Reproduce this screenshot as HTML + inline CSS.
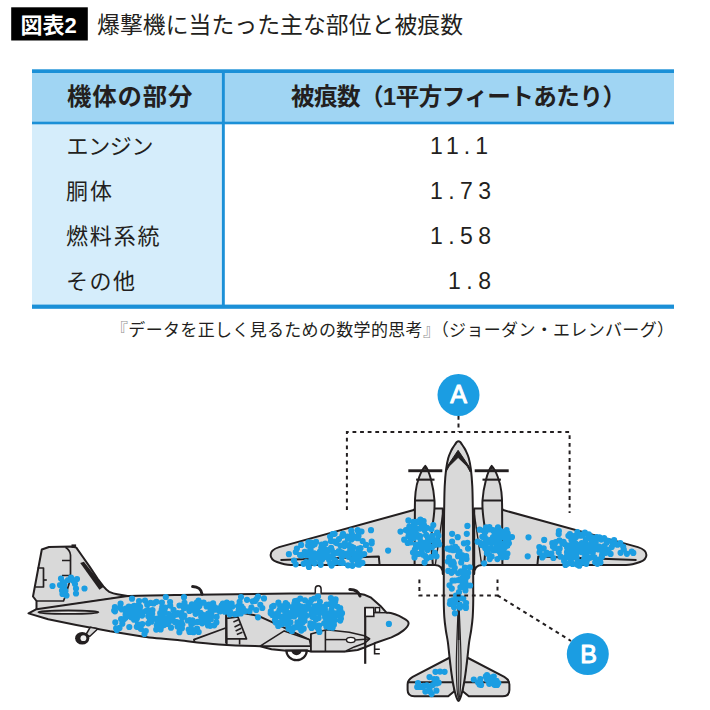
<!DOCTYPE html>
<html lang="ja"><head><meta charset="utf-8"><title>図表2 爆撃機に当たった主な部位と被痕数</title>
<style>
html,body{margin:0;padding:0;background:#fff;}
body{width:710px;height:710px;overflow:hidden;font-family:"Liberation Sans",sans-serif;}
svg{display:block}
</style></head><body>
<svg width="710" height="710" viewBox="0 0 710 710" role="img" aria-label="図表2 爆撃機に当たった主な部位と被痕数">
<path d="M414.7 509.8 L279.1 547.1 C273 549 270.6 552 270.6 555 C270.6 558.5 273 560.5 277 562 C281 563.5 285 565 291 565 L435 565 C440 565 442.8 568 442.8 574 L442.8 508.4 L414.7 508.4 Z" fill="#d9d9d9" stroke="#231f20" stroke-width="2.0" stroke-linejoin="round" stroke-linecap="round" />
<path d="M502.3 509.8 L637.9 547.1 C644.0 549 646.4 552 646.4 555 C646.4 558.5 644.0 560.5 640.0 562 C636.0 563.5 632.0 565 626.0 565 L482.0 565 C477.0 565 474.2 568 474.2 574 L474.2 508.4 L502.3 508.4 Z" fill="#d9d9d9" stroke="#231f20" stroke-width="2.0" stroke-linejoin="round" stroke-linecap="round" />
<path d="M280.5 560 L378.8 556.4 L379.6 565" fill="none" stroke="#231f20" stroke-width="2.0" stroke-linejoin="round" stroke-linecap="butt" />
<path d="M636.5 560 L538.2 556.4 L537.4 565" fill="none" stroke="#231f20" stroke-width="2.0" stroke-linejoin="round" stroke-linecap="butt" />
<path d="M443.4 509 L435.3 565" fill="none" stroke="#231f20" stroke-width="1.4" stroke-linejoin="round" stroke-linecap="butt" />
<path d="M473.6 509 L481.7 565" fill="none" stroke="#231f20" stroke-width="1.4" stroke-linejoin="round" stroke-linecap="butt" />
<path d="M449.9 657.5 L412.7 676.9 C409 679 407.6 681.5 407.6 684.5 L407.6 690 C407.6 694 410 696.3 414.4 696.3 L448.2 696.3 L454.6 691 Z" fill="#d9d9d9" stroke="#231f20" stroke-width="2.0" stroke-linejoin="round" stroke-linecap="round" />
<path d="M467.1 657.5 L504.3 676.9 C508.0 679 509.4 681.5 509.4 684.5 L509.4 690 C509.4 694 507.0 696.3 502.6 696.3 L468.8 696.3 L462.4 691 Z" fill="#d9d9d9" stroke="#231f20" stroke-width="2.0" stroke-linejoin="round" stroke-linecap="round" />
<path d="M407.6 682.2 H453.5" fill="none" stroke="#231f20" stroke-width="2.0" stroke-linejoin="round" stroke-linecap="butt" />
<path d="M509.4 682.2 H463.5" fill="none" stroke="#231f20" stroke-width="2.0" stroke-linejoin="round" stroke-linecap="butt" />
<path d="M425.3 465.9 C421.3 470 416.5 482 415.6 492 C415.0 497 414.8 503 414.9 510 L414.6 565 L432.90000000000003 565 C431.5 552 430.90000000000003 540 432.1 528 C433.8 518 434.9 508 434.5 500.5 C433.7 488 429.3 470 425.3 465.9 Z" fill="#d9d9d9" stroke="#231f20" stroke-width="2.0" stroke-linejoin="round" stroke-linecap="round" />
<path d="M415.1 500.5 H434.5" fill="none" stroke="#231f20" stroke-width="2.0" stroke-linejoin="round" stroke-linecap="butt" />
<rect x="408.3" y="469.3" width="34" height="2.9" fill="#231f20"/>
<rect x="416.1" y="478.6" width="18.4" height="2.1" fill="#231f20"/>
<path d="M425.3 465.2 L423.8 469.5 H426.8 Z" fill="#231f20"/>
<path d="M491.7 465.9 C495.7 470 500.5 482 501.4 492 C502.0 497 502.2 503 502.1 510 L502.4 565 L484.09999999999997 565 C485.5 552 486.09999999999997 540 484.9 528 C483.2 518 482.1 508 482.5 500.5 C483.3 488 487.7 470 491.7 465.9 Z" fill="#d9d9d9" stroke="#231f20" stroke-width="2.0" stroke-linejoin="round" stroke-linecap="round" />
<path d="M501.9 500.5 H482.5" fill="none" stroke="#231f20" stroke-width="2.0" stroke-linejoin="round" stroke-linecap="butt" />
<rect x="474.7" y="469.3" width="34" height="2.9" fill="#231f20"/>
<rect x="482.5" y="478.6" width="18.4" height="2.1" fill="#231f20"/>
<path d="M491.7 465.2 L490.2 469.5 H493.2 Z" fill="#231f20"/>
<path d="M458.50 441.30 C457.93 441.30 457.33 441.63 456.80 442.10 C456.27 442.57 455.93 443.20 455.30 444.10 C454.67 445.00 453.72 446.33 453.00 447.50 C452.28 448.67 451.80 449.32 451.00 451.10 C450.20 452.88 449.02 455.15 448.20 458.20 C447.38 461.25 446.68 464.72 446.10 469.40 C445.52 474.08 445.02 479.95 444.70 486.30 C444.38 492.65 444.32 500.45 444.20 507.50 C444.07 514.55 444.02 518.18 443.95 528.60 C443.88 539.02 443.83 558.10 443.80 570.00 C443.77 581.90 443.67 592.18 443.75 600.00 C443.83 607.82 443.96 611.90 444.30 616.90 C444.64 621.90 445.20 625.77 445.80 630.00 C446.40 634.23 447.28 637.82 447.90 642.30 C448.52 646.78 448.89 651.65 449.50 656.90 C450.11 662.15 450.83 668.73 451.55 673.80 C452.27 678.87 453.08 683.63 453.80 687.30 C454.52 690.97 455.28 693.72 455.90 695.80 C456.52 697.88 457.07 698.95 457.50 699.80 C457.93 700.65 458.17 700.90 458.50 700.90 C458.83 700.90 459.07 700.65 459.50 699.80 C459.93 698.95 460.48 697.88 461.10 695.80 C461.72 693.72 462.48 690.97 463.20 687.30 C463.92 683.63 464.73 678.87 465.45 673.80 C466.17 668.73 466.89 662.15 467.50 656.90 C468.11 651.65 468.48 646.78 469.10 642.30 C469.72 637.82 470.60 634.23 471.20 630.00 C471.80 625.77 472.36 621.90 472.70 616.90 C473.04 611.90 473.17 607.82 473.25 600.00 C473.33 592.18 473.23 581.90 473.20 570.00 C473.17 558.10 473.12 539.02 473.05 528.60 C472.98 518.18 472.93 514.55 472.80 507.50 C472.68 500.45 472.62 492.65 472.30 486.30 C471.98 479.95 471.48 474.08 470.90 469.40 C470.32 464.72 469.62 461.25 468.80 458.20 C467.98 455.15 466.80 452.88 466.00 451.10 C465.20 449.32 464.72 448.67 464.00 447.50 C463.28 446.33 462.33 445.00 461.70 444.10 C461.07 443.20 460.73 442.57 460.20 442.10 C459.67 441.63 459.07 441.30 458.50 441.30 Z" fill="#d9d9d9" stroke="#231f20" stroke-width="2.0" stroke-linejoin="round" stroke-linecap="round" />
<path d="M458.1 450.3 L446.9 466.8 L445.9 472 L449.1 466.2 L458.1 457.4 L467.1 466.2 L470.3 472 L469.3 466.8 Z" fill="#231f20" stroke="#231f20" stroke-width="1" stroke-linejoin="round"/>
<path d="M458.5 601 C457.4 625 456.2 650 456.3 668 C456.6 685 457.8 698 458.7 698.5 C459.6 698 460.8 685 461.1 668 C461.2 650 459.8 625 458.9 601 Z" fill="#bdbdbd" stroke="#231f20" stroke-width="1.2" stroke-linejoin="round" stroke-linecap="round" />
<path d="M458.7 600 V640" fill="none" stroke="#231f20" stroke-width="2.0" stroke-linejoin="round" stroke-linecap="butt" />
<path d="M458.7 640 V697" fill="none" stroke="#231f20" stroke-width="0.9" stroke-linejoin="round" stroke-linecap="butt" />
<path d="M41.8 549.5 L49 547 L72 546.5 L76.3 547.6 L82.7 556.8 L89.6 566.6 L97.5 578.5 L103.4 586.4 C105.5 589 107.5 590.8 109.3 591.8 C112 593 114.5 593.8 117.2 594.2 L129 596.3 L36.5 610 L36.5 601 L33 596.5 Z" fill="#d9d9d9" stroke="#231f20" stroke-width="2.0" stroke-linejoin="round" stroke-linecap="round" />
<rect x="71.5" y="544.4" width="4.6" height="3.6" fill="#231f20"/>
<path d="M80.2 562.9 L83.9 561.7 L103.8 586.8 L99.4 589.7 Z" fill="#231f20"/>
<path d="M65.5 547.3 C68 549 70.2 551.5 70.5 555 L70.5 574 L69 584 L65 597 L63.5 601 H36.5" fill="none" stroke="#231f20" stroke-width="1.7" stroke-linejoin="round" stroke-linecap="butt" />
<path d="M62 560.5 H70.5 M62 575.5 H70.3" fill="none" stroke="#231f20" stroke-width="1.7" stroke-linejoin="round" stroke-linecap="butt" />
<path d="M37.5 568 H43.5 V587 H35.2" fill="none" stroke="#231f20" stroke-width="1.7" stroke-linejoin="round" stroke-linecap="butt" />
<path d="M43.5 580 H46.8" fill="none" stroke="#231f20" stroke-width="1.7" stroke-linejoin="round" stroke-linecap="butt" />
<path d="M28.5 613.4 L36.5 609.2 L126 596.2 C140 595.4 160 595.3 194.5 594.8 L290 593.5 L357.6 593.5 C364 594 368 596 371.1 597.7 L381.3 606.8 L386.5 612.6 C392 613 398 615 403.2 618.2 C406.5 620 408.6 621.5 408.6 623.2 C408.6 625.5 406.5 628 403.2 630.6 C399 634 395 636 391.4 637.4 L374.5 643.3 L364.4 647.5 L357.6 650 L345 651.4 L310.8 651.4 L306.5 650.6 L286.5 650.8 L271.5 649.2 L260.1 646.3 L255 646 C240 645.8 225 645 218.8 644.5 C205 643.5 190 641.5 177.6 640.1 C160 638.5 150 637.5 143.8 636.7 L110 631.3 L76.3 625.1 L48.2 619.3 Z" fill="#d9d9d9" stroke="#231f20" stroke-width="2.0" stroke-linejoin="round" stroke-linecap="round" />
<ellipse cx="68.4" cy="612.2" rx="30" ry="1.7" fill="#e8e8e8" stroke="#231f20" stroke-width="1.9"/>
<path d="M90.2 627.3 L86 634.5 L89.6 636.5 L97.9 628.8 Z" fill="#d9d9d9" stroke="#231f20" stroke-width="1.5" stroke-linejoin="round" stroke-linecap="round" />
<ellipse cx="82.2" cy="638.3" rx="7.1" ry="6.3" fill="#231f20"/>
<circle cx="83.4" cy="638.2" r="2.9" fill="#f0f0f0"/>
<path d="M202 594.2 C201.5 589.8 198 586.6 192.6 586.6" fill="none" stroke="#231f20" stroke-width="3.0" stroke-linejoin="round" stroke-linecap="round" />
<path d="M360 596 C358.5 591.8 355 589.4 349.8 589.5" fill="none" stroke="#231f20" stroke-width="3.0" stroke-linejoin="round" stroke-linecap="round" />
<path d="M315.3 593.5 V589 C315.3 584.6 321.1 584.6 321.1 589 V593.5" fill="#fff" stroke="#231f20" stroke-width="1.5"/>
<path d="M286.4 650.6 A10.2 9.6 0 0 0 306.8 650.6 Z" fill="#fff" stroke="#231f20" stroke-width="2.2"/>
<path d="M291.4 650.6 A5.1 4.6 0 0 0 301.6 650.6 Z" fill="#231f20"/>
<path d="M194.8 642.8 L193.9 639.6 L225.6 628" fill="none" stroke="#231f20" stroke-width="1.8" stroke-linejoin="round" stroke-linecap="butt" />
<path d="M226.1 613 V643.6" fill="none" stroke="#231f20" stroke-width="2.0" stroke-linejoin="round" stroke-linecap="butt" />
<path d="M206.9 620.8 H212.5" fill="none" stroke="#231f20" stroke-width="1.6" stroke-linejoin="round" stroke-linecap="butt" />
<path d="M226.6 618.4 L237.9 616.9 L246.5 638.9 H226.8 Z" fill="#d9d9d9" stroke="#231f20" stroke-width="1.7" stroke-linejoin="round" stroke-linecap="round" />
<path d="M233.4 622 L238.5 619.7" fill="none" stroke="#231f20" stroke-width="1.5" stroke-linejoin="round" stroke-linecap="butt" />
<path d="M234.5 627 L240.1 624.3" fill="none" stroke="#231f20" stroke-width="1.5" stroke-linejoin="round" stroke-linecap="butt" />
<path d="M235.6 631 L241.3 628.3" fill="none" stroke="#231f20" stroke-width="1.5" stroke-linejoin="round" stroke-linecap="butt" />
<path d="M236.8 634.5 L242.4 632.2" fill="none" stroke="#231f20" stroke-width="1.5" stroke-linejoin="round" stroke-linecap="butt" />
<path d="M226.8 639.1 V644 M239.6 639.1 V644.4" fill="none" stroke="#231f20" stroke-width="1.6" stroke-linejoin="round" stroke-linecap="butt" />
<path d="M243.3 612.9 L259.4 616.3 L284.2 627.7 L309.5 639.8" fill="none" stroke="#231f20" stroke-width="2.0" stroke-linejoin="round" stroke-linecap="butt" />
<path d="M260.1 646.1 L284.2 630.9 L309.5 639.8 L310.8 646.1 Z" fill="#d9d9d9" stroke="#231f20" stroke-width="1.6" stroke-linejoin="round" stroke-linecap="round" />
<path d="M310.8 634.1 L326.3 629.8 L349.2 632.3 L364.4 635.7 L369.6 638.8 L364.4 643.3 L354.2 646.9 L345 651.4 L310.8 651.4 Z" fill="#d9d9d9" stroke="#231f20" stroke-width="1.6" stroke-linejoin="round" stroke-linecap="round" />
<path d="M325.4 630.2 V651.2" fill="none" stroke="#231f20" stroke-width="1.6" stroke-linejoin="round" stroke-linecap="butt" />
<path d="M310.8 634 V651.4" fill="none" stroke="#231f20" stroke-width="1.6" stroke-linejoin="round" stroke-linecap="butt" />
<path d="M325.4 639.6 H346.6" fill="none" stroke="#231f20" stroke-width="1.5" stroke-linejoin="round" stroke-linecap="butt" />
<ellipse cx="350.8" cy="640" rx="4.3" ry="2.6" fill="#fff" stroke="#231f20" stroke-width="1.4"/>
<path d="M355.1 640 L368.5 639" fill="none" stroke="#231f20" stroke-width="1.3" stroke-linejoin="round" stroke-linecap="butt" />
<path d="M365.2 607.2 V663.8" fill="none" stroke="#231f20" stroke-width="2.2" stroke-linejoin="round" stroke-linecap="butt" />
<rect x="365.2" y="607.6" width="8.6" height="8.8" fill="#f2f2f2" stroke="#231f20" stroke-width="1.6"/>
<rect x="375.4" y="607.6" width="4.2" height="4.6" fill="#f2f2f2" stroke="#231f20" stroke-width="1.4"/>
<path d="M373.8 612.7 H388" fill="none" stroke="#231f20" stroke-width="1.4" stroke-linejoin="round" stroke-linecap="butt" />
<path d="M374.6 642.8 V654.6 M374.6 649.3 H379.8 M374.6 653.8 H379.8" fill="none" stroke="#231f20" stroke-width="1.6" stroke-linejoin="round" stroke-linecap="butt" /><path d="M49.4 586.0a3.1 3.1 0 1 0 6.2 0a3.1 3.1 0 1 0 -6.2 0M57.9 578.5a3.1 3.1 0 1 0 6.2 0a3.1 3.1 0 1 0 -6.2 0M56.9 585.0a3.1 3.1 0 1 0 6.2 0a3.1 3.1 0 1 0 -6.2 0M59.9 582.0a3.1 3.1 0 1 0 6.2 0a3.1 3.1 0 1 0 -6.2 0M60.9 588.0a3.1 3.1 0 1 0 6.2 0a3.1 3.1 0 1 0 -6.2 0M59.4 594.0a3.1 3.1 0 1 0 6.2 0a3.1 3.1 0 1 0 -6.2 0M63.4 595.5a3.1 3.1 0 1 0 6.2 0a3.1 3.1 0 1 0 -6.2 0M62.4 591.0a3.1 3.1 0 1 0 6.2 0a3.1 3.1 0 1 0 -6.2 0M67.9 577.5a3.1 3.1 0 1 0 6.2 0a3.1 3.1 0 1 0 -6.2 0M73.9 579.0a3.1 3.1 0 1 0 6.2 0a3.1 3.1 0 1 0 -6.2 0M71.9 584.0a3.1 3.1 0 1 0 6.2 0a3.1 3.1 0 1 0 -6.2 0M72.9 593.5a3.1 3.1 0 1 0 6.2 0a3.1 3.1 0 1 0 -6.2 0M81.4 588.5a3.1 3.1 0 1 0 6.2 0a3.1 3.1 0 1 0 -6.2 0M64.9 580.0a3.1 3.1 0 1 0 6.2 0a3.1 3.1 0 1 0 -6.2 0M69.9 580.5a3.1 3.1 0 1 0 6.2 0a3.1 3.1 0 1 0 -6.2 0M72.9 588.5a3.1 3.1 0 1 0 6.2 0a3.1 3.1 0 1 0 -6.2 0M58.9 590.5a3.1 3.1 0 1 0 6.2 0a3.1 3.1 0 1 0 -6.2 0M61.4 584.5a3.1 3.1 0 1 0 6.2 0a3.1 3.1 0 1 0 -6.2 0M158.8 619.6a3.1 3.1 0 1 0 6.2 0a3.1 3.1 0 1 0 -6.2 0M160.2 617.8a3.1 3.1 0 1 0 6.2 0a3.1 3.1 0 1 0 -6.2 0M129.8 617.9a3.1 3.1 0 1 0 6.2 0a3.1 3.1 0 1 0 -6.2 0M195.5 603.3a3.1 3.1 0 1 0 6.2 0a3.1 3.1 0 1 0 -6.2 0M176.4 605.5a3.1 3.1 0 1 0 6.2 0a3.1 3.1 0 1 0 -6.2 0M167.0 602.1a3.1 3.1 0 1 0 6.2 0a3.1 3.1 0 1 0 -6.2 0M136.0 601.1a3.1 3.1 0 1 0 6.2 0a3.1 3.1 0 1 0 -6.2 0M157.5 629.5a3.1 3.1 0 1 0 6.2 0a3.1 3.1 0 1 0 -6.2 0M179.1 617.5a3.1 3.1 0 1 0 6.2 0a3.1 3.1 0 1 0 -6.2 0M186.3 611.0a3.1 3.1 0 1 0 6.2 0a3.1 3.1 0 1 0 -6.2 0M153.1 629.6a3.1 3.1 0 1 0 6.2 0a3.1 3.1 0 1 0 -6.2 0M208.2 616.4a3.1 3.1 0 1 0 6.2 0a3.1 3.1 0 1 0 -6.2 0M194.0 609.4a3.1 3.1 0 1 0 6.2 0a3.1 3.1 0 1 0 -6.2 0M122.6 608.6a3.1 3.1 0 1 0 6.2 0a3.1 3.1 0 1 0 -6.2 0M116.4 627.9a3.1 3.1 0 1 0 6.2 0a3.1 3.1 0 1 0 -6.2 0M170.3 615.7a3.1 3.1 0 1 0 6.2 0a3.1 3.1 0 1 0 -6.2 0M122.5 614.7a3.1 3.1 0 1 0 6.2 0a3.1 3.1 0 1 0 -6.2 0M142.7 631.0a3.1 3.1 0 1 0 6.2 0a3.1 3.1 0 1 0 -6.2 0M132.9 609.0a3.1 3.1 0 1 0 6.2 0a3.1 3.1 0 1 0 -6.2 0M145.4 610.4a3.1 3.1 0 1 0 6.2 0a3.1 3.1 0 1 0 -6.2 0M119.6 620.4a3.1 3.1 0 1 0 6.2 0a3.1 3.1 0 1 0 -6.2 0M174.8 613.0a3.1 3.1 0 1 0 6.2 0a3.1 3.1 0 1 0 -6.2 0M213.5 616.9a3.1 3.1 0 1 0 6.2 0a3.1 3.1 0 1 0 -6.2 0M203.5 606.4a3.1 3.1 0 1 0 6.2 0a3.1 3.1 0 1 0 -6.2 0M205.2 621.1a3.1 3.1 0 1 0 6.2 0a3.1 3.1 0 1 0 -6.2 0M213.9 608.3a3.1 3.1 0 1 0 6.2 0a3.1 3.1 0 1 0 -6.2 0M137.7 628.8a3.1 3.1 0 1 0 6.2 0a3.1 3.1 0 1 0 -6.2 0M117.3 608.0a3.1 3.1 0 1 0 6.2 0a3.1 3.1 0 1 0 -6.2 0M202.0 621.5a3.1 3.1 0 1 0 6.2 0a3.1 3.1 0 1 0 -6.2 0M209.0 607.1a3.1 3.1 0 1 0 6.2 0a3.1 3.1 0 1 0 -6.2 0M139.0 615.6a3.1 3.1 0 1 0 6.2 0a3.1 3.1 0 1 0 -6.2 0M128.9 612.9a3.1 3.1 0 1 0 6.2 0a3.1 3.1 0 1 0 -6.2 0M124.1 612.7a3.1 3.1 0 1 0 6.2 0a3.1 3.1 0 1 0 -6.2 0M184.6 620.5a3.1 3.1 0 1 0 6.2 0a3.1 3.1 0 1 0 -6.2 0M112.2 622.3a3.1 3.1 0 1 0 6.2 0a3.1 3.1 0 1 0 -6.2 0M118.0 619.1a3.1 3.1 0 1 0 6.2 0a3.1 3.1 0 1 0 -6.2 0M207.1 625.8a3.1 3.1 0 1 0 6.2 0a3.1 3.1 0 1 0 -6.2 0M195.6 632.0a3.1 3.1 0 1 0 6.2 0a3.1 3.1 0 1 0 -6.2 0M171.8 621.9a3.1 3.1 0 1 0 6.2 0a3.1 3.1 0 1 0 -6.2 0M204.9 625.5a3.1 3.1 0 1 0 6.2 0a3.1 3.1 0 1 0 -6.2 0M189.3 620.3a3.1 3.1 0 1 0 6.2 0a3.1 3.1 0 1 0 -6.2 0M134.8 624.4a3.1 3.1 0 1 0 6.2 0a3.1 3.1 0 1 0 -6.2 0M176.3 632.2a3.1 3.1 0 1 0 6.2 0a3.1 3.1 0 1 0 -6.2 0M111.1 610.5a3.1 3.1 0 1 0 6.2 0a3.1 3.1 0 1 0 -6.2 0M181.2 615.5a3.1 3.1 0 1 0 6.2 0a3.1 3.1 0 1 0 -6.2 0M145.2 623.3a3.1 3.1 0 1 0 6.2 0a3.1 3.1 0 1 0 -6.2 0M205.0 613.5a3.1 3.1 0 1 0 6.2 0a3.1 3.1 0 1 0 -6.2 0M144.1 604.8a3.1 3.1 0 1 0 6.2 0a3.1 3.1 0 1 0 -6.2 0M212.5 609.7a3.1 3.1 0 1 0 6.2 0a3.1 3.1 0 1 0 -6.2 0M158.6 609.6a3.1 3.1 0 1 0 6.2 0a3.1 3.1 0 1 0 -6.2 0M154.6 621.9a3.1 3.1 0 1 0 6.2 0a3.1 3.1 0 1 0 -6.2 0M158.8 602.6a3.1 3.1 0 1 0 6.2 0a3.1 3.1 0 1 0 -6.2 0M186.4 620.0a3.1 3.1 0 1 0 6.2 0a3.1 3.1 0 1 0 -6.2 0M195.4 600.7a3.1 3.1 0 1 0 6.2 0a3.1 3.1 0 1 0 -6.2 0M135.5 604.9a3.1 3.1 0 1 0 6.2 0a3.1 3.1 0 1 0 -6.2 0M177.9 615.6a3.1 3.1 0 1 0 6.2 0a3.1 3.1 0 1 0 -6.2 0M183.8 607.0a3.1 3.1 0 1 0 6.2 0a3.1 3.1 0 1 0 -6.2 0M160.9 625.0a3.1 3.1 0 1 0 6.2 0a3.1 3.1 0 1 0 -6.2 0M139.3 612.1a3.1 3.1 0 1 0 6.2 0a3.1 3.1 0 1 0 -6.2 0M166.1 621.5a3.1 3.1 0 1 0 6.2 0a3.1 3.1 0 1 0 -6.2 0M123.9 615.9a3.1 3.1 0 1 0 6.2 0a3.1 3.1 0 1 0 -6.2 0M208.2 613.2a3.1 3.1 0 1 0 6.2 0a3.1 3.1 0 1 0 -6.2 0M160.0 622.8a3.1 3.1 0 1 0 6.2 0a3.1 3.1 0 1 0 -6.2 0M187.9 628.6a3.1 3.1 0 1 0 6.2 0a3.1 3.1 0 1 0 -6.2 0M167.9 627.7a3.1 3.1 0 1 0 6.2 0a3.1 3.1 0 1 0 -6.2 0M147.5 602.9a3.1 3.1 0 1 0 6.2 0a3.1 3.1 0 1 0 -6.2 0M113.0 628.3a3.1 3.1 0 1 0 6.2 0a3.1 3.1 0 1 0 -6.2 0M196.3 606.1a3.1 3.1 0 1 0 6.2 0a3.1 3.1 0 1 0 -6.2 0M195.0 604.9a3.1 3.1 0 1 0 6.2 0a3.1 3.1 0 1 0 -6.2 0M133.8 618.4a3.1 3.1 0 1 0 6.2 0a3.1 3.1 0 1 0 -6.2 0M188.6 622.4a3.1 3.1 0 1 0 6.2 0a3.1 3.1 0 1 0 -6.2 0M201.0 619.6a3.1 3.1 0 1 0 6.2 0a3.1 3.1 0 1 0 -6.2 0M167.8 617.6a3.1 3.1 0 1 0 6.2 0a3.1 3.1 0 1 0 -6.2 0M165.6 614.0a3.1 3.1 0 1 0 6.2 0a3.1 3.1 0 1 0 -6.2 0M161.4 611.1a3.1 3.1 0 1 0 6.2 0a3.1 3.1 0 1 0 -6.2 0M148.3 621.7a3.1 3.1 0 1 0 6.2 0a3.1 3.1 0 1 0 -6.2 0M188.8 604.3a3.1 3.1 0 1 0 6.2 0a3.1 3.1 0 1 0 -6.2 0M137.0 606.9a3.1 3.1 0 1 0 6.2 0a3.1 3.1 0 1 0 -6.2 0M157.1 613.2a3.1 3.1 0 1 0 6.2 0a3.1 3.1 0 1 0 -6.2 0M167.1 605.6a3.1 3.1 0 1 0 6.2 0a3.1 3.1 0 1 0 -6.2 0M178.1 622.3a3.1 3.1 0 1 0 6.2 0a3.1 3.1 0 1 0 -6.2 0M207.4 611.1a3.1 3.1 0 1 0 6.2 0a3.1 3.1 0 1 0 -6.2 0M205.8 604.7a3.1 3.1 0 1 0 6.2 0a3.1 3.1 0 1 0 -6.2 0M188.4 609.1a3.1 3.1 0 1 0 6.2 0a3.1 3.1 0 1 0 -6.2 0M199.8 614.8a3.1 3.1 0 1 0 6.2 0a3.1 3.1 0 1 0 -6.2 0M111.8 607.0a3.1 3.1 0 1 0 6.2 0a3.1 3.1 0 1 0 -6.2 0M122.4 617.7a3.1 3.1 0 1 0 6.2 0a3.1 3.1 0 1 0 -6.2 0M164.2 624.0a3.1 3.1 0 1 0 6.2 0a3.1 3.1 0 1 0 -6.2 0M117.5 603.7a3.1 3.1 0 1 0 6.2 0a3.1 3.1 0 1 0 -6.2 0M169.5 618.0a3.1 3.1 0 1 0 6.2 0a3.1 3.1 0 1 0 -6.2 0M125.7 606.5a3.1 3.1 0 1 0 6.2 0a3.1 3.1 0 1 0 -6.2 0M210.0 603.3a3.1 3.1 0 1 0 6.2 0a3.1 3.1 0 1 0 -6.2 0M145.2 616.3a3.1 3.1 0 1 0 6.2 0a3.1 3.1 0 1 0 -6.2 0M156.3 621.0a3.1 3.1 0 1 0 6.2 0a3.1 3.1 0 1 0 -6.2 0M185.6 629.5a3.1 3.1 0 1 0 6.2 0a3.1 3.1 0 1 0 -6.2 0M158.9 625.9a3.1 3.1 0 1 0 6.2 0a3.1 3.1 0 1 0 -6.2 0M131.0 605.8a3.1 3.1 0 1 0 6.2 0a3.1 3.1 0 1 0 -6.2 0M193.9 628.5a3.1 3.1 0 1 0 6.2 0a3.1 3.1 0 1 0 -6.2 0M153.7 625.3a3.1 3.1 0 1 0 6.2 0a3.1 3.1 0 1 0 -6.2 0M179.3 624.5a3.1 3.1 0 1 0 6.2 0a3.1 3.1 0 1 0 -6.2 0M176.4 625.9a3.1 3.1 0 1 0 6.2 0a3.1 3.1 0 1 0 -6.2 0M153.3 601.8a3.1 3.1 0 1 0 6.2 0a3.1 3.1 0 1 0 -6.2 0M150.5 603.4a3.1 3.1 0 1 0 6.2 0a3.1 3.1 0 1 0 -6.2 0M207.7 619.3a3.1 3.1 0 1 0 6.2 0a3.1 3.1 0 1 0 -6.2 0M178.8 628.3a3.1 3.1 0 1 0 6.2 0a3.1 3.1 0 1 0 -6.2 0M174.4 626.6a3.1 3.1 0 1 0 6.2 0a3.1 3.1 0 1 0 -6.2 0M210.4 605.6a3.1 3.1 0 1 0 6.2 0a3.1 3.1 0 1 0 -6.2 0M128.2 617.3a3.1 3.1 0 1 0 6.2 0a3.1 3.1 0 1 0 -6.2 0M155.3 618.4a3.1 3.1 0 1 0 6.2 0a3.1 3.1 0 1 0 -6.2 0M149.4 610.0a3.1 3.1 0 1 0 6.2 0a3.1 3.1 0 1 0 -6.2 0M170.4 609.9a3.1 3.1 0 1 0 6.2 0a3.1 3.1 0 1 0 -6.2 0M141.9 600.5a3.1 3.1 0 1 0 6.2 0a3.1 3.1 0 1 0 -6.2 0M211.1 625.3a3.1 3.1 0 1 0 6.2 0a3.1 3.1 0 1 0 -6.2 0M159.1 607.1a3.1 3.1 0 1 0 6.2 0a3.1 3.1 0 1 0 -6.2 0M172.8 614.7a3.1 3.1 0 1 0 6.2 0a3.1 3.1 0 1 0 -6.2 0M194.6 621.9a3.1 3.1 0 1 0 6.2 0a3.1 3.1 0 1 0 -6.2 0M139.2 624.0a3.1 3.1 0 1 0 6.2 0a3.1 3.1 0 1 0 -6.2 0M173.8 622.2a3.1 3.1 0 1 0 6.2 0a3.1 3.1 0 1 0 -6.2 0M121.0 619.0a3.1 3.1 0 1 0 6.2 0a3.1 3.1 0 1 0 -6.2 0M119.2 623.7a3.1 3.1 0 1 0 6.2 0a3.1 3.1 0 1 0 -6.2 0M178.1 613.1a3.1 3.1 0 1 0 6.2 0a3.1 3.1 0 1 0 -6.2 0M132.6 612.0a3.1 3.1 0 1 0 6.2 0a3.1 3.1 0 1 0 -6.2 0M200.5 602.6a3.1 3.1 0 1 0 6.2 0a3.1 3.1 0 1 0 -6.2 0M197.3 621.8a3.1 3.1 0 1 0 6.2 0a3.1 3.1 0 1 0 -6.2 0M132.9 614.9a3.1 3.1 0 1 0 6.2 0a3.1 3.1 0 1 0 -6.2 0M197.4 612.9a3.1 3.1 0 1 0 6.2 0a3.1 3.1 0 1 0 -6.2 0M216.7 611.4a3.1 3.1 0 1 0 6.2 0a3.1 3.1 0 1 0 -6.2 0M190.5 632.2a3.1 3.1 0 1 0 6.2 0a3.1 3.1 0 1 0 -6.2 0M193.7 602.7a3.1 3.1 0 1 0 6.2 0a3.1 3.1 0 1 0 -6.2 0M181.4 602.9a3.1 3.1 0 1 0 6.2 0a3.1 3.1 0 1 0 -6.2 0M188.2 624.3a3.1 3.1 0 1 0 6.2 0a3.1 3.1 0 1 0 -6.2 0M142.8 611.1a3.1 3.1 0 1 0 6.2 0a3.1 3.1 0 1 0 -6.2 0M136.7 612.7a3.1 3.1 0 1 0 6.2 0a3.1 3.1 0 1 0 -6.2 0M149.1 613.8a3.1 3.1 0 1 0 6.2 0a3.1 3.1 0 1 0 -6.2 0M131.0 619.7a3.1 3.1 0 1 0 6.2 0a3.1 3.1 0 1 0 -6.2 0M168.7 619.9a3.1 3.1 0 1 0 6.2 0a3.1 3.1 0 1 0 -6.2 0M190.4 622.7a3.1 3.1 0 1 0 6.2 0a3.1 3.1 0 1 0 -6.2 0M133.7 626.8a3.1 3.1 0 1 0 6.2 0a3.1 3.1 0 1 0 -6.2 0M192.5 613.8a3.1 3.1 0 1 0 6.2 0a3.1 3.1 0 1 0 -6.2 0M163.2 618.8a3.1 3.1 0 1 0 6.2 0a3.1 3.1 0 1 0 -6.2 0M186.4 632.0a3.1 3.1 0 1 0 6.2 0a3.1 3.1 0 1 0 -6.2 0M199.1 623.3a3.1 3.1 0 1 0 6.2 0a3.1 3.1 0 1 0 -6.2 0M213.3 622.4a3.1 3.1 0 1 0 6.2 0a3.1 3.1 0 1 0 -6.2 0M128.0 607.2a3.1 3.1 0 1 0 6.2 0a3.1 3.1 0 1 0 -6.2 0M141.4 633.9a3.1 3.1 0 1 0 6.2 0a3.1 3.1 0 1 0 -6.2 0M193.7 606.3a3.1 3.1 0 1 0 6.2 0a3.1 3.1 0 1 0 -6.2 0M129.8 607.6a3.1 3.1 0 1 0 6.2 0a3.1 3.1 0 1 0 -6.2 0M129.9 609.8a3.1 3.1 0 1 0 6.2 0a3.1 3.1 0 1 0 -6.2 0M191.7 610.9a3.1 3.1 0 1 0 6.2 0a3.1 3.1 0 1 0 -6.2 0M198.1 616.8a3.1 3.1 0 1 0 6.2 0a3.1 3.1 0 1 0 -6.2 0M146.8 619.2a3.1 3.1 0 1 0 6.2 0a3.1 3.1 0 1 0 -6.2 0M162.0 607.7a3.1 3.1 0 1 0 6.2 0a3.1 3.1 0 1 0 -6.2 0M151.5 618.5a3.1 3.1 0 1 0 6.2 0a3.1 3.1 0 1 0 -6.2 0M180.9 608.3a3.1 3.1 0 1 0 6.2 0a3.1 3.1 0 1 0 -6.2 0M160.9 613.0a3.1 3.1 0 1 0 6.2 0a3.1 3.1 0 1 0 -6.2 0M126.8 611.3a3.1 3.1 0 1 0 6.2 0a3.1 3.1 0 1 0 -6.2 0M203.8 618.1a3.1 3.1 0 1 0 6.2 0a3.1 3.1 0 1 0 -6.2 0M217.2 609.3a3.1 3.1 0 1 0 6.2 0a3.1 3.1 0 1 0 -6.2 0M126.2 627.0a3.1 3.1 0 1 0 6.2 0a3.1 3.1 0 1 0 -6.2 0M118.8 609.4a3.1 3.1 0 1 0 6.2 0a3.1 3.1 0 1 0 -6.2 0M128.9 598.7a3.1 3.1 0 1 0 6.2 0a3.1 3.1 0 1 0 -6.2 0M162.7 597.0a3.1 3.1 0 1 0 6.2 0a3.1 3.1 0 1 0 -6.2 0M180.9 597.2a3.1 3.1 0 1 0 6.2 0a3.1 3.1 0 1 0 -6.2 0M113.7 630.0a3.1 3.1 0 1 0 6.2 0a3.1 3.1 0 1 0 -6.2 0M111.9 611.3a3.1 3.1 0 1 0 6.2 0a3.1 3.1 0 1 0 -6.2 0M242.1 611.1a3.1 3.1 0 1 0 6.2 0a3.1 3.1 0 1 0 -6.2 0M251.9 600.9a3.1 3.1 0 1 0 6.2 0a3.1 3.1 0 1 0 -6.2 0M218.5 605.5a3.1 3.1 0 1 0 6.2 0a3.1 3.1 0 1 0 -6.2 0M231.9 614.2a3.1 3.1 0 1 0 6.2 0a3.1 3.1 0 1 0 -6.2 0M253.1 610.0a3.1 3.1 0 1 0 6.2 0a3.1 3.1 0 1 0 -6.2 0M246.4 611.2a3.1 3.1 0 1 0 6.2 0a3.1 3.1 0 1 0 -6.2 0M225.3 606.8a3.1 3.1 0 1 0 6.2 0a3.1 3.1 0 1 0 -6.2 0M221.7 611.7a3.1 3.1 0 1 0 6.2 0a3.1 3.1 0 1 0 -6.2 0M235.1 606.1a3.1 3.1 0 1 0 6.2 0a3.1 3.1 0 1 0 -6.2 0M260.9 598.4a3.1 3.1 0 1 0 6.2 0a3.1 3.1 0 1 0 -6.2 0M243.9 599.8a3.1 3.1 0 1 0 6.2 0a3.1 3.1 0 1 0 -6.2 0M223.6 606.5a3.1 3.1 0 1 0 6.2 0a3.1 3.1 0 1 0 -6.2 0M224.8 604.3a3.1 3.1 0 1 0 6.2 0a3.1 3.1 0 1 0 -6.2 0M249.6 601.3a3.1 3.1 0 1 0 6.2 0a3.1 3.1 0 1 0 -6.2 0M253.4 599.0a3.1 3.1 0 1 0 6.2 0a3.1 3.1 0 1 0 -6.2 0M226.6 614.3a3.1 3.1 0 1 0 6.2 0a3.1 3.1 0 1 0 -6.2 0M238.3 606.4a3.1 3.1 0 1 0 6.2 0a3.1 3.1 0 1 0 -6.2 0M248.3 607.5a3.1 3.1 0 1 0 6.2 0a3.1 3.1 0 1 0 -6.2 0M254.9 617.3a3.1 3.1 0 1 0 6.2 0a3.1 3.1 0 1 0 -6.2 0M267.7 611.3a3.1 3.1 0 1 0 6.2 0a3.1 3.1 0 1 0 -6.2 0M223.7 602.7a3.1 3.1 0 1 0 6.2 0a3.1 3.1 0 1 0 -6.2 0M236.4 608.2a3.1 3.1 0 1 0 6.2 0a3.1 3.1 0 1 0 -6.2 0M259.2 608.0a3.1 3.1 0 1 0 6.2 0a3.1 3.1 0 1 0 -6.2 0M239.8 608.4a3.1 3.1 0 1 0 6.2 0a3.1 3.1 0 1 0 -6.2 0M229.2 606.5a3.1 3.1 0 1 0 6.2 0a3.1 3.1 0 1 0 -6.2 0M237.7 613.4a3.1 3.1 0 1 0 6.2 0a3.1 3.1 0 1 0 -6.2 0M223.1 609.0a3.1 3.1 0 1 0 6.2 0a3.1 3.1 0 1 0 -6.2 0M227.0 611.9a3.1 3.1 0 1 0 6.2 0a3.1 3.1 0 1 0 -6.2 0M219.8 603.5a3.1 3.1 0 1 0 6.2 0a3.1 3.1 0 1 0 -6.2 0M235.5 610.7a3.1 3.1 0 1 0 6.2 0a3.1 3.1 0 1 0 -6.2 0M220.6 607.2a3.1 3.1 0 1 0 6.2 0a3.1 3.1 0 1 0 -6.2 0M228.5 603.6a3.1 3.1 0 1 0 6.2 0a3.1 3.1 0 1 0 -6.2 0M236.5 601.8a3.1 3.1 0 1 0 6.2 0a3.1 3.1 0 1 0 -6.2 0M257.2 604.8a3.1 3.1 0 1 0 6.2 0a3.1 3.1 0 1 0 -6.2 0M219.9 610.4a3.1 3.1 0 1 0 6.2 0a3.1 3.1 0 1 0 -6.2 0M234.3 613.7a3.1 3.1 0 1 0 6.2 0a3.1 3.1 0 1 0 -6.2 0M285.8 621.3a3.1 3.1 0 1 0 6.2 0a3.1 3.1 0 1 0 -6.2 0M328.9 604.3a3.1 3.1 0 1 0 6.2 0a3.1 3.1 0 1 0 -6.2 0M276.4 616.1a3.1 3.1 0 1 0 6.2 0a3.1 3.1 0 1 0 -6.2 0M288.4 612.7a3.1 3.1 0 1 0 6.2 0a3.1 3.1 0 1 0 -6.2 0M311.3 598.5a3.1 3.1 0 1 0 6.2 0a3.1 3.1 0 1 0 -6.2 0M285.6 626.9a3.1 3.1 0 1 0 6.2 0a3.1 3.1 0 1 0 -6.2 0M322.0 617.2a3.1 3.1 0 1 0 6.2 0a3.1 3.1 0 1 0 -6.2 0M293.5 612.6a3.1 3.1 0 1 0 6.2 0a3.1 3.1 0 1 0 -6.2 0M307.4 623.4a3.1 3.1 0 1 0 6.2 0a3.1 3.1 0 1 0 -6.2 0M316.3 613.1a3.1 3.1 0 1 0 6.2 0a3.1 3.1 0 1 0 -6.2 0M281.7 615.8a3.1 3.1 0 1 0 6.2 0a3.1 3.1 0 1 0 -6.2 0M300.4 618.6a3.1 3.1 0 1 0 6.2 0a3.1 3.1 0 1 0 -6.2 0M284.1 604.6a3.1 3.1 0 1 0 6.2 0a3.1 3.1 0 1 0 -6.2 0M328.1 619.7a3.1 3.1 0 1 0 6.2 0a3.1 3.1 0 1 0 -6.2 0M294.3 622.4a3.1 3.1 0 1 0 6.2 0a3.1 3.1 0 1 0 -6.2 0M337.8 618.5a3.1 3.1 0 1 0 6.2 0a3.1 3.1 0 1 0 -6.2 0M282.4 619.0a3.1 3.1 0 1 0 6.2 0a3.1 3.1 0 1 0 -6.2 0M310.1 610.2a3.1 3.1 0 1 0 6.2 0a3.1 3.1 0 1 0 -6.2 0M291.8 608.0a3.1 3.1 0 1 0 6.2 0a3.1 3.1 0 1 0 -6.2 0M316.8 601.8a3.1 3.1 0 1 0 6.2 0a3.1 3.1 0 1 0 -6.2 0M271.9 619.9a3.1 3.1 0 1 0 6.2 0a3.1 3.1 0 1 0 -6.2 0M291.9 601.2a3.1 3.1 0 1 0 6.2 0a3.1 3.1 0 1 0 -6.2 0M288.9 607.1a3.1 3.1 0 1 0 6.2 0a3.1 3.1 0 1 0 -6.2 0M272.6 614.0a3.1 3.1 0 1 0 6.2 0a3.1 3.1 0 1 0 -6.2 0M327.8 598.2a3.1 3.1 0 1 0 6.2 0a3.1 3.1 0 1 0 -6.2 0M301.5 620.8a3.1 3.1 0 1 0 6.2 0a3.1 3.1 0 1 0 -6.2 0M269.2 615.0a3.1 3.1 0 1 0 6.2 0a3.1 3.1 0 1 0 -6.2 0M320.8 606.8a3.1 3.1 0 1 0 6.2 0a3.1 3.1 0 1 0 -6.2 0M328.9 606.8a3.1 3.1 0 1 0 6.2 0a3.1 3.1 0 1 0 -6.2 0M292.9 606.3a3.1 3.1 0 1 0 6.2 0a3.1 3.1 0 1 0 -6.2 0M281.8 609.9a3.1 3.1 0 1 0 6.2 0a3.1 3.1 0 1 0 -6.2 0M323.4 604.5a3.1 3.1 0 1 0 6.2 0a3.1 3.1 0 1 0 -6.2 0M307.4 609.3a3.1 3.1 0 1 0 6.2 0a3.1 3.1 0 1 0 -6.2 0M275.1 626.0a3.1 3.1 0 1 0 6.2 0a3.1 3.1 0 1 0 -6.2 0M276.3 610.3a3.1 3.1 0 1 0 6.2 0a3.1 3.1 0 1 0 -6.2 0M306.7 602.3a3.1 3.1 0 1 0 6.2 0a3.1 3.1 0 1 0 -6.2 0M301.9 610.6a3.1 3.1 0 1 0 6.2 0a3.1 3.1 0 1 0 -6.2 0M315.6 629.8a3.1 3.1 0 1 0 6.2 0a3.1 3.1 0 1 0 -6.2 0M334.1 613.0a3.1 3.1 0 1 0 6.2 0a3.1 3.1 0 1 0 -6.2 0M275.3 602.7a3.1 3.1 0 1 0 6.2 0a3.1 3.1 0 1 0 -6.2 0M326.2 616.1a3.1 3.1 0 1 0 6.2 0a3.1 3.1 0 1 0 -6.2 0M337.1 608.1a3.1 3.1 0 1 0 6.2 0a3.1 3.1 0 1 0 -6.2 0M274.7 622.3a3.1 3.1 0 1 0 6.2 0a3.1 3.1 0 1 0 -6.2 0M297.9 619.2a3.1 3.1 0 1 0 6.2 0a3.1 3.1 0 1 0 -6.2 0M319.2 607.9a3.1 3.1 0 1 0 6.2 0a3.1 3.1 0 1 0 -6.2 0M301.3 607.1a3.1 3.1 0 1 0 6.2 0a3.1 3.1 0 1 0 -6.2 0M269.0 606.8a3.1 3.1 0 1 0 6.2 0a3.1 3.1 0 1 0 -6.2 0M322.5 614.5a3.1 3.1 0 1 0 6.2 0a3.1 3.1 0 1 0 -6.2 0M300.6 628.7a3.1 3.1 0 1 0 6.2 0a3.1 3.1 0 1 0 -6.2 0M280.8 617.5a3.1 3.1 0 1 0 6.2 0a3.1 3.1 0 1 0 -6.2 0M326.9 604.1a3.1 3.1 0 1 0 6.2 0a3.1 3.1 0 1 0 -6.2 0M303.2 615.7a3.1 3.1 0 1 0 6.2 0a3.1 3.1 0 1 0 -6.2 0M282.5 623.3a3.1 3.1 0 1 0 6.2 0a3.1 3.1 0 1 0 -6.2 0M298.2 630.6a3.1 3.1 0 1 0 6.2 0a3.1 3.1 0 1 0 -6.2 0M334.5 606.8a3.1 3.1 0 1 0 6.2 0a3.1 3.1 0 1 0 -6.2 0M311.3 606.3a3.1 3.1 0 1 0 6.2 0a3.1 3.1 0 1 0 -6.2 0M267.6 613.3a3.1 3.1 0 1 0 6.2 0a3.1 3.1 0 1 0 -6.2 0M318.0 612.5a3.1 3.1 0 1 0 6.2 0a3.1 3.1 0 1 0 -6.2 0M315.6 618.1a3.1 3.1 0 1 0 6.2 0a3.1 3.1 0 1 0 -6.2 0M276.6 622.7a3.1 3.1 0 1 0 6.2 0a3.1 3.1 0 1 0 -6.2 0M294.7 625.7a3.1 3.1 0 1 0 6.2 0a3.1 3.1 0 1 0 -6.2 0M308.6 612.1a3.1 3.1 0 1 0 6.2 0a3.1 3.1 0 1 0 -6.2 0M294.3 600.6a3.1 3.1 0 1 0 6.2 0a3.1 3.1 0 1 0 -6.2 0M338.9 613.2a3.1 3.1 0 1 0 6.2 0a3.1 3.1 0 1 0 -6.2 0M282.6 603.0a3.1 3.1 0 1 0 6.2 0a3.1 3.1 0 1 0 -6.2 0M288.8 630.9a3.1 3.1 0 1 0 6.2 0a3.1 3.1 0 1 0 -6.2 0M295.1 605.2a3.1 3.1 0 1 0 6.2 0a3.1 3.1 0 1 0 -6.2 0M270.5 605.9a3.1 3.1 0 1 0 6.2 0a3.1 3.1 0 1 0 -6.2 0M331.4 620.4a3.1 3.1 0 1 0 6.2 0a3.1 3.1 0 1 0 -6.2 0M279.6 622.0a3.1 3.1 0 1 0 6.2 0a3.1 3.1 0 1 0 -6.2 0M297.7 606.3a3.1 3.1 0 1 0 6.2 0a3.1 3.1 0 1 0 -6.2 0M309.2 616.8a3.1 3.1 0 1 0 6.2 0a3.1 3.1 0 1 0 -6.2 0M287.4 622.3a3.1 3.1 0 1 0 6.2 0a3.1 3.1 0 1 0 -6.2 0M282.9 608.4a3.1 3.1 0 1 0 6.2 0a3.1 3.1 0 1 0 -6.2 0M326.6 613.2a3.1 3.1 0 1 0 6.2 0a3.1 3.1 0 1 0 -6.2 0M304.9 606.3a3.1 3.1 0 1 0 6.2 0a3.1 3.1 0 1 0 -6.2 0M310.6 624.2a3.1 3.1 0 1 0 6.2 0a3.1 3.1 0 1 0 -6.2 0M307.2 625.8a3.1 3.1 0 1 0 6.2 0a3.1 3.1 0 1 0 -6.2 0M291.7 612.6a3.1 3.1 0 1 0 6.2 0a3.1 3.1 0 1 0 -6.2 0M299.1 616.2a3.1 3.1 0 1 0 6.2 0a3.1 3.1 0 1 0 -6.2 0M284.5 612.8a3.1 3.1 0 1 0 6.2 0a3.1 3.1 0 1 0 -6.2 0M332.5 599.4a3.1 3.1 0 1 0 6.2 0a3.1 3.1 0 1 0 -6.2 0M320.9 613.6a3.1 3.1 0 1 0 6.2 0a3.1 3.1 0 1 0 -6.2 0M278.6 624.2a3.1 3.1 0 1 0 6.2 0a3.1 3.1 0 1 0 -6.2 0M308.3 599.9a3.1 3.1 0 1 0 6.2 0a3.1 3.1 0 1 0 -6.2 0M325.5 623.0a3.1 3.1 0 1 0 6.2 0a3.1 3.1 0 1 0 -6.2 0M299.5 622.6a3.1 3.1 0 1 0 6.2 0a3.1 3.1 0 1 0 -6.2 0M296.3 627.7a3.1 3.1 0 1 0 6.2 0a3.1 3.1 0 1 0 -6.2 0M335.2 615.4a3.1 3.1 0 1 0 6.2 0a3.1 3.1 0 1 0 -6.2 0M313.6 606.1a3.1 3.1 0 1 0 6.2 0a3.1 3.1 0 1 0 -6.2 0M337.1 620.6a3.1 3.1 0 1 0 6.2 0a3.1 3.1 0 1 0 -6.2 0M305.4 604.1a3.1 3.1 0 1 0 6.2 0a3.1 3.1 0 1 0 -6.2 0M316.3 631.9a3.1 3.1 0 1 0 6.2 0a3.1 3.1 0 1 0 -6.2 0M312.8 619.6a3.1 3.1 0 1 0 6.2 0a3.1 3.1 0 1 0 -6.2 0M277.1 606.2a3.1 3.1 0 1 0 6.2 0a3.1 3.1 0 1 0 -6.2 0M272.6 622.5a3.1 3.1 0 1 0 6.2 0a3.1 3.1 0 1 0 -6.2 0M279.3 619.0a3.1 3.1 0 1 0 6.2 0a3.1 3.1 0 1 0 -6.2 0M274.7 613.0a3.1 3.1 0 1 0 6.2 0a3.1 3.1 0 1 0 -6.2 0M315.9 625.7a3.1 3.1 0 1 0 6.2 0a3.1 3.1 0 1 0 -6.2 0M287.0 616.3a3.1 3.1 0 1 0 6.2 0a3.1 3.1 0 1 0 -6.2 0M323.9 617.7a3.1 3.1 0 1 0 6.2 0a3.1 3.1 0 1 0 -6.2 0M308.5 627.9a3.1 3.1 0 1 0 6.2 0a3.1 3.1 0 1 0 -6.2 0M329.5 627.7a3.1 3.1 0 1 0 6.2 0a3.1 3.1 0 1 0 -6.2 0M317.1 607.7a3.1 3.1 0 1 0 6.2 0a3.1 3.1 0 1 0 -6.2 0M279.0 609.2a3.1 3.1 0 1 0 6.2 0a3.1 3.1 0 1 0 -6.2 0M321.1 623.3a3.1 3.1 0 1 0 6.2 0a3.1 3.1 0 1 0 -6.2 0M323.1 620.9a3.1 3.1 0 1 0 6.2 0a3.1 3.1 0 1 0 -6.2 0M330.2 615.5a3.1 3.1 0 1 0 6.2 0a3.1 3.1 0 1 0 -6.2 0M330.8 613.0a3.1 3.1 0 1 0 6.2 0a3.1 3.1 0 1 0 -6.2 0M314.3 627.4a3.1 3.1 0 1 0 6.2 0a3.1 3.1 0 1 0 -6.2 0M332.1 601.6a3.1 3.1 0 1 0 6.2 0a3.1 3.1 0 1 0 -6.2 0M291.3 603.7a3.1 3.1 0 1 0 6.2 0a3.1 3.1 0 1 0 -6.2 0M314.7 611.6a3.1 3.1 0 1 0 6.2 0a3.1 3.1 0 1 0 -6.2 0M337.3 613.9a3.1 3.1 0 1 0 6.2 0a3.1 3.1 0 1 0 -6.2 0M296.0 610.5a3.1 3.1 0 1 0 6.2 0a3.1 3.1 0 1 0 -6.2 0M301.9 600.3a3.1 3.1 0 1 0 6.2 0a3.1 3.1 0 1 0 -6.2 0M328.3 610.0a3.1 3.1 0 1 0 6.2 0a3.1 3.1 0 1 0 -6.2 0M326.2 627.3a3.1 3.1 0 1 0 6.2 0a3.1 3.1 0 1 0 -6.2 0M295.8 614.6a3.1 3.1 0 1 0 6.2 0a3.1 3.1 0 1 0 -6.2 0M299.7 612.9a3.1 3.1 0 1 0 6.2 0a3.1 3.1 0 1 0 -6.2 0M337.3 610.7a3.1 3.1 0 1 0 6.2 0a3.1 3.1 0 1 0 -6.2 0M291.5 627.4a3.1 3.1 0 1 0 6.2 0a3.1 3.1 0 1 0 -6.2 0M308.8 613.8a3.1 3.1 0 1 0 6.2 0a3.1 3.1 0 1 0 -6.2 0M297.2 598.7a3.1 3.1 0 1 0 6.2 0a3.1 3.1 0 1 0 -6.2 0M279.8 606.1a3.1 3.1 0 1 0 6.2 0a3.1 3.1 0 1 0 -6.2 0M291.1 616.4a3.1 3.1 0 1 0 6.2 0a3.1 3.1 0 1 0 -6.2 0M288.4 628.4a3.1 3.1 0 1 0 6.2 0a3.1 3.1 0 1 0 -6.2 0M285.5 628.7a3.1 3.1 0 1 0 6.2 0a3.1 3.1 0 1 0 -6.2 0M310.9 613.9a3.1 3.1 0 1 0 6.2 0a3.1 3.1 0 1 0 -6.2 0M323.3 626.5a3.1 3.1 0 1 0 6.2 0a3.1 3.1 0 1 0 -6.2 0M282.1 612.4a3.1 3.1 0 1 0 6.2 0a3.1 3.1 0 1 0 -6.2 0M329.4 623.8a3.1 3.1 0 1 0 6.2 0a3.1 3.1 0 1 0 -6.2 0M321.8 609.3a3.1 3.1 0 1 0 6.2 0a3.1 3.1 0 1 0 -6.2 0M284.5 624.7a3.1 3.1 0 1 0 6.2 0a3.1 3.1 0 1 0 -6.2 0M315.9 609.6a3.1 3.1 0 1 0 6.2 0a3.1 3.1 0 1 0 -6.2 0M385.8 623.9a3.1 3.1 0 1 0 6.2 0a3.1 3.1 0 1 0 -6.2 0M337.6 616.3a3.1 3.1 0 1 0 6.2 0a3.1 3.1 0 1 0 -6.2 0M330.8 624.7a3.1 3.1 0 1 0 6.2 0a3.1 3.1 0 1 0 -6.2 0M314.9 596.5a3.1 3.1 0 1 0 6.2 0a3.1 3.1 0 1 0 -6.2 0M237.9 597.0a3.1 3.1 0 1 0 6.2 0a3.1 3.1 0 1 0 -6.2 0M254.9 596.5a3.1 3.1 0 1 0 6.2 0a3.1 3.1 0 1 0 -6.2 0M298.6 555.4a3.1 3.1 0 1 0 6.2 0a3.1 3.1 0 1 0 -6.2 0M355.8 548.7a3.1 3.1 0 1 0 6.2 0a3.1 3.1 0 1 0 -6.2 0M316.9 551.5a3.1 3.1 0 1 0 6.2 0a3.1 3.1 0 1 0 -6.2 0M354.5 538.2a3.1 3.1 0 1 0 6.2 0a3.1 3.1 0 1 0 -6.2 0M368.6 543.3a3.1 3.1 0 1 0 6.2 0a3.1 3.1 0 1 0 -6.2 0M324.2 550.2a3.1 3.1 0 1 0 6.2 0a3.1 3.1 0 1 0 -6.2 0M327.0 536.5a3.1 3.1 0 1 0 6.2 0a3.1 3.1 0 1 0 -6.2 0M351.1 558.1a3.1 3.1 0 1 0 6.2 0a3.1 3.1 0 1 0 -6.2 0M348.8 534.1a3.1 3.1 0 1 0 6.2 0a3.1 3.1 0 1 0 -6.2 0M362.9 544.9a3.1 3.1 0 1 0 6.2 0a3.1 3.1 0 1 0 -6.2 0M328.0 547.9a3.1 3.1 0 1 0 6.2 0a3.1 3.1 0 1 0 -6.2 0M350.5 537.8a3.1 3.1 0 1 0 6.2 0a3.1 3.1 0 1 0 -6.2 0M333.4 552.8a3.1 3.1 0 1 0 6.2 0a3.1 3.1 0 1 0 -6.2 0M317.3 555.1a3.1 3.1 0 1 0 6.2 0a3.1 3.1 0 1 0 -6.2 0M336.5 562.6a3.1 3.1 0 1 0 6.2 0a3.1 3.1 0 1 0 -6.2 0M355.6 558.5a3.1 3.1 0 1 0 6.2 0a3.1 3.1 0 1 0 -6.2 0M358.4 531.5a3.1 3.1 0 1 0 6.2 0a3.1 3.1 0 1 0 -6.2 0M309.7 545.2a3.1 3.1 0 1 0 6.2 0a3.1 3.1 0 1 0 -6.2 0M350.3 547.5a3.1 3.1 0 1 0 6.2 0a3.1 3.1 0 1 0 -6.2 0M337.4 545.5a3.1 3.1 0 1 0 6.2 0a3.1 3.1 0 1 0 -6.2 0M359.5 541.0a3.1 3.1 0 1 0 6.2 0a3.1 3.1 0 1 0 -6.2 0M308.5 558.3a3.1 3.1 0 1 0 6.2 0a3.1 3.1 0 1 0 -6.2 0M344.9 565.3a3.1 3.1 0 1 0 6.2 0a3.1 3.1 0 1 0 -6.2 0M336.7 553.6a3.1 3.1 0 1 0 6.2 0a3.1 3.1 0 1 0 -6.2 0M335.9 539.1a3.1 3.1 0 1 0 6.2 0a3.1 3.1 0 1 0 -6.2 0M361.1 554.1a3.1 3.1 0 1 0 6.2 0a3.1 3.1 0 1 0 -6.2 0M331.8 541.7a3.1 3.1 0 1 0 6.2 0a3.1 3.1 0 1 0 -6.2 0M347.1 550.1a3.1 3.1 0 1 0 6.2 0a3.1 3.1 0 1 0 -6.2 0M306.4 555.6a3.1 3.1 0 1 0 6.2 0a3.1 3.1 0 1 0 -6.2 0M311.4 563.3a3.1 3.1 0 1 0 6.2 0a3.1 3.1 0 1 0 -6.2 0M328.7 550.1a3.1 3.1 0 1 0 6.2 0a3.1 3.1 0 1 0 -6.2 0M292.7 552.0a3.1 3.1 0 1 0 6.2 0a3.1 3.1 0 1 0 -6.2 0M349.3 565.8a3.1 3.1 0 1 0 6.2 0a3.1 3.1 0 1 0 -6.2 0M323.8 552.8a3.1 3.1 0 1 0 6.2 0a3.1 3.1 0 1 0 -6.2 0M341.3 546.1a3.1 3.1 0 1 0 6.2 0a3.1 3.1 0 1 0 -6.2 0M318.6 544.6a3.1 3.1 0 1 0 6.2 0a3.1 3.1 0 1 0 -6.2 0M348.3 546.6a3.1 3.1 0 1 0 6.2 0a3.1 3.1 0 1 0 -6.2 0M318.2 547.8a3.1 3.1 0 1 0 6.2 0a3.1 3.1 0 1 0 -6.2 0M327.7 556.4a3.1 3.1 0 1 0 6.2 0a3.1 3.1 0 1 0 -6.2 0M353.3 553.0a3.1 3.1 0 1 0 6.2 0a3.1 3.1 0 1 0 -6.2 0M344.7 538.7a3.1 3.1 0 1 0 6.2 0a3.1 3.1 0 1 0 -6.2 0M318.2 552.6a3.1 3.1 0 1 0 6.2 0a3.1 3.1 0 1 0 -6.2 0M311.6 544.2a3.1 3.1 0 1 0 6.2 0a3.1 3.1 0 1 0 -6.2 0M341.0 555.1a3.1 3.1 0 1 0 6.2 0a3.1 3.1 0 1 0 -6.2 0M368.6 541.6a3.1 3.1 0 1 0 6.2 0a3.1 3.1 0 1 0 -6.2 0M301.7 551.9a3.1 3.1 0 1 0 6.2 0a3.1 3.1 0 1 0 -6.2 0M317.6 564.8a3.1 3.1 0 1 0 6.2 0a3.1 3.1 0 1 0 -6.2 0M354.4 560.3a3.1 3.1 0 1 0 6.2 0a3.1 3.1 0 1 0 -6.2 0M319.8 550.2a3.1 3.1 0 1 0 6.2 0a3.1 3.1 0 1 0 -6.2 0M356.5 552.2a3.1 3.1 0 1 0 6.2 0a3.1 3.1 0 1 0 -6.2 0M325.8 559.5a3.1 3.1 0 1 0 6.2 0a3.1 3.1 0 1 0 -6.2 0M307.9 542.7a3.1 3.1 0 1 0 6.2 0a3.1 3.1 0 1 0 -6.2 0M339.7 562.9a3.1 3.1 0 1 0 6.2 0a3.1 3.1 0 1 0 -6.2 0M344.2 536.6a3.1 3.1 0 1 0 6.2 0a3.1 3.1 0 1 0 -6.2 0M366.7 549.7a3.1 3.1 0 1 0 6.2 0a3.1 3.1 0 1 0 -6.2 0M345.4 556.8a3.1 3.1 0 1 0 6.2 0a3.1 3.1 0 1 0 -6.2 0M290.9 560.5a3.1 3.1 0 1 0 6.2 0a3.1 3.1 0 1 0 -6.2 0M331.3 553.1a3.1 3.1 0 1 0 6.2 0a3.1 3.1 0 1 0 -6.2 0M347.1 548.0a3.1 3.1 0 1 0 6.2 0a3.1 3.1 0 1 0 -6.2 0M338.5 552.3a3.1 3.1 0 1 0 6.2 0a3.1 3.1 0 1 0 -6.2 0M331.6 562.6a3.1 3.1 0 1 0 6.2 0a3.1 3.1 0 1 0 -6.2 0M331.9 560.1a3.1 3.1 0 1 0 6.2 0a3.1 3.1 0 1 0 -6.2 0M321.5 551.3a3.1 3.1 0 1 0 6.2 0a3.1 3.1 0 1 0 -6.2 0M329.6 534.1a3.1 3.1 0 1 0 6.2 0a3.1 3.1 0 1 0 -6.2 0M321.7 553.5a3.1 3.1 0 1 0 6.2 0a3.1 3.1 0 1 0 -6.2 0M350.8 553.9a3.1 3.1 0 1 0 6.2 0a3.1 3.1 0 1 0 -6.2 0M322.2 543.7a3.1 3.1 0 1 0 6.2 0a3.1 3.1 0 1 0 -6.2 0M307.5 549.7a3.1 3.1 0 1 0 6.2 0a3.1 3.1 0 1 0 -6.2 0M335.7 551.1a3.1 3.1 0 1 0 6.2 0a3.1 3.1 0 1 0 -6.2 0M349.2 560.0a3.1 3.1 0 1 0 6.2 0a3.1 3.1 0 1 0 -6.2 0M357.4 548.2a3.1 3.1 0 1 0 6.2 0a3.1 3.1 0 1 0 -6.2 0M354.5 564.3a3.1 3.1 0 1 0 6.2 0a3.1 3.1 0 1 0 -6.2 0M359.3 562.9a3.1 3.1 0 1 0 6.2 0a3.1 3.1 0 1 0 -6.2 0M311.3 553.3a3.1 3.1 0 1 0 6.2 0a3.1 3.1 0 1 0 -6.2 0M303.3 555.2a3.1 3.1 0 1 0 6.2 0a3.1 3.1 0 1 0 -6.2 0M341.7 543.3a3.1 3.1 0 1 0 6.2 0a3.1 3.1 0 1 0 -6.2 0M345.9 545.0a3.1 3.1 0 1 0 6.2 0a3.1 3.1 0 1 0 -6.2 0M348.4 551.8a3.1 3.1 0 1 0 6.2 0a3.1 3.1 0 1 0 -6.2 0M328.5 565.6a3.1 3.1 0 1 0 6.2 0a3.1 3.1 0 1 0 -6.2 0M340.5 553.3a3.1 3.1 0 1 0 6.2 0a3.1 3.1 0 1 0 -6.2 0M314.7 557.8a3.1 3.1 0 1 0 6.2 0a3.1 3.1 0 1 0 -6.2 0M313.0 541.8a3.1 3.1 0 1 0 6.2 0a3.1 3.1 0 1 0 -6.2 0M331.5 533.8a3.1 3.1 0 1 0 6.2 0a3.1 3.1 0 1 0 -6.2 0M305.5 552.0a3.1 3.1 0 1 0 6.2 0a3.1 3.1 0 1 0 -6.2 0M330.2 554.4a3.1 3.1 0 1 0 6.2 0a3.1 3.1 0 1 0 -6.2 0M353.0 556.5a3.1 3.1 0 1 0 6.2 0a3.1 3.1 0 1 0 -6.2 0M343.0 554.1a3.1 3.1 0 1 0 6.2 0a3.1 3.1 0 1 0 -6.2 0M355.2 531.5a3.1 3.1 0 1 0 6.2 0a3.1 3.1 0 1 0 -6.2 0M317.2 561.9a3.1 3.1 0 1 0 6.2 0a3.1 3.1 0 1 0 -6.2 0M345.4 553.0a3.1 3.1 0 1 0 6.2 0a3.1 3.1 0 1 0 -6.2 0M333.4 543.1a3.1 3.1 0 1 0 6.2 0a3.1 3.1 0 1 0 -6.2 0M327.9 540.9a3.1 3.1 0 1 0 6.2 0a3.1 3.1 0 1 0 -6.2 0M300.5 563.8a3.1 3.1 0 1 0 6.2 0a3.1 3.1 0 1 0 -6.2 0M303.0 562.1a3.1 3.1 0 1 0 6.2 0a3.1 3.1 0 1 0 -6.2 0M324.0 557.1a3.1 3.1 0 1 0 6.2 0a3.1 3.1 0 1 0 -6.2 0M357.9 555.4a3.1 3.1 0 1 0 6.2 0a3.1 3.1 0 1 0 -6.2 0M296.9 555.0a3.1 3.1 0 1 0 6.2 0a3.1 3.1 0 1 0 -6.2 0M305.8 566.9a3.1 3.1 0 1 0 6.2 0a3.1 3.1 0 1 0 -6.2 0M293.8 548.6a3.1 3.1 0 1 0 6.2 0a3.1 3.1 0 1 0 -6.2 0M318.8 556.8a3.1 3.1 0 1 0 6.2 0a3.1 3.1 0 1 0 -6.2 0M315.0 555.8a3.1 3.1 0 1 0 6.2 0a3.1 3.1 0 1 0 -6.2 0M311.7 555.8a3.1 3.1 0 1 0 6.2 0a3.1 3.1 0 1 0 -6.2 0M355.4 536.0a3.1 3.1 0 1 0 6.2 0a3.1 3.1 0 1 0 -6.2 0M339.2 535.8a3.1 3.1 0 1 0 6.2 0a3.1 3.1 0 1 0 -6.2 0M292.6 564.3a3.1 3.1 0 1 0 6.2 0a3.1 3.1 0 1 0 -6.2 0M319.2 559.2a3.1 3.1 0 1 0 6.2 0a3.1 3.1 0 1 0 -6.2 0M353.7 536.5a3.1 3.1 0 1 0 6.2 0a3.1 3.1 0 1 0 -6.2 0M327.2 563.6a3.1 3.1 0 1 0 6.2 0a3.1 3.1 0 1 0 -6.2 0M348.2 530.7a3.1 3.1 0 1 0 6.2 0a3.1 3.1 0 1 0 -6.2 0M310.4 558.1a3.1 3.1 0 1 0 6.2 0a3.1 3.1 0 1 0 -6.2 0M298.1 544.9a3.1 3.1 0 1 0 6.2 0a3.1 3.1 0 1 0 -6.2 0M305.3 542.3a3.1 3.1 0 1 0 6.2 0a3.1 3.1 0 1 0 -6.2 0M338.7 557.5a3.1 3.1 0 1 0 6.2 0a3.1 3.1 0 1 0 -6.2 0M348.3 539.5a3.1 3.1 0 1 0 6.2 0a3.1 3.1 0 1 0 -6.2 0M321.6 549.6a3.1 3.1 0 1 0 6.2 0a3.1 3.1 0 1 0 -6.2 0M306.8 562.0a3.1 3.1 0 1 0 6.2 0a3.1 3.1 0 1 0 -6.2 0M339.9 533.8a3.1 3.1 0 1 0 6.2 0a3.1 3.1 0 1 0 -6.2 0M305.0 545.6a3.1 3.1 0 1 0 6.2 0a3.1 3.1 0 1 0 -6.2 0M285.8 554.2a3.1 3.1 0 1 0 6.2 0a3.1 3.1 0 1 0 -6.2 0M385.0 550.6a3.1 3.1 0 1 0 6.2 0a3.1 3.1 0 1 0 -6.2 0M397.4 531.6a3.1 3.1 0 1 0 6.2 0a3.1 3.1 0 1 0 -6.2 0M367.9 530.2a3.1 3.1 0 1 0 6.2 0a3.1 3.1 0 1 0 -6.2 0M354.6 530.2a3.1 3.1 0 1 0 6.2 0a3.1 3.1 0 1 0 -6.2 0M355.9 564.7a3.1 3.1 0 1 0 6.2 0a3.1 3.1 0 1 0 -6.2 0M411.4 557.4a3.1 3.1 0 1 0 6.2 0a3.1 3.1 0 1 0 -6.2 0M432.3 544.8a3.1 3.1 0 1 0 6.2 0a3.1 3.1 0 1 0 -6.2 0M423.9 527.8a3.1 3.1 0 1 0 6.2 0a3.1 3.1 0 1 0 -6.2 0M417.6 541.7a3.1 3.1 0 1 0 6.2 0a3.1 3.1 0 1 0 -6.2 0M423.7 558.5a3.1 3.1 0 1 0 6.2 0a3.1 3.1 0 1 0 -6.2 0M412.5 544.5a3.1 3.1 0 1 0 6.2 0a3.1 3.1 0 1 0 -6.2 0M421.1 542.8a3.1 3.1 0 1 0 6.2 0a3.1 3.1 0 1 0 -6.2 0M424.2 542.2a3.1 3.1 0 1 0 6.2 0a3.1 3.1 0 1 0 -6.2 0M404.6 543.0a3.1 3.1 0 1 0 6.2 0a3.1 3.1 0 1 0 -6.2 0M410.7 535.0a3.1 3.1 0 1 0 6.2 0a3.1 3.1 0 1 0 -6.2 0M428.9 547.2a3.1 3.1 0 1 0 6.2 0a3.1 3.1 0 1 0 -6.2 0M426.9 539.9a3.1 3.1 0 1 0 6.2 0a3.1 3.1 0 1 0 -6.2 0M423.0 534.9a3.1 3.1 0 1 0 6.2 0a3.1 3.1 0 1 0 -6.2 0M424.9 538.2a3.1 3.1 0 1 0 6.2 0a3.1 3.1 0 1 0 -6.2 0M411.6 525.0a3.1 3.1 0 1 0 6.2 0a3.1 3.1 0 1 0 -6.2 0M404.9 531.6a3.1 3.1 0 1 0 6.2 0a3.1 3.1 0 1 0 -6.2 0M416.2 528.7a3.1 3.1 0 1 0 6.2 0a3.1 3.1 0 1 0 -6.2 0M417.0 536.1a3.1 3.1 0 1 0 6.2 0a3.1 3.1 0 1 0 -6.2 0M407.0 542.5a3.1 3.1 0 1 0 6.2 0a3.1 3.1 0 1 0 -6.2 0M431.0 541.5a3.1 3.1 0 1 0 6.2 0a3.1 3.1 0 1 0 -6.2 0M413.0 547.5a3.1 3.1 0 1 0 6.2 0a3.1 3.1 0 1 0 -6.2 0M412.7 529.9a3.1 3.1 0 1 0 6.2 0a3.1 3.1 0 1 0 -6.2 0M418.5 552.2a3.1 3.1 0 1 0 6.2 0a3.1 3.1 0 1 0 -6.2 0M408.9 530.0a3.1 3.1 0 1 0 6.2 0a3.1 3.1 0 1 0 -6.2 0M434.0 532.5a3.1 3.1 0 1 0 6.2 0a3.1 3.1 0 1 0 -6.2 0M410.9 527.4a3.1 3.1 0 1 0 6.2 0a3.1 3.1 0 1 0 -6.2 0M414.1 534.9a3.1 3.1 0 1 0 6.2 0a3.1 3.1 0 1 0 -6.2 0M435.3 535.7a3.1 3.1 0 1 0 6.2 0a3.1 3.1 0 1 0 -6.2 0M435.0 541.6a3.1 3.1 0 1 0 6.2 0a3.1 3.1 0 1 0 -6.2 0M402.9 530.0a3.1 3.1 0 1 0 6.2 0a3.1 3.1 0 1 0 -6.2 0M417.6 522.9a3.1 3.1 0 1 0 6.2 0a3.1 3.1 0 1 0 -6.2 0M415.8 546.5a3.1 3.1 0 1 0 6.2 0a3.1 3.1 0 1 0 -6.2 0M412.0 532.0a3.1 3.1 0 1 0 6.2 0a3.1 3.1 0 1 0 -6.2 0M428.3 529.1a3.1 3.1 0 1 0 6.2 0a3.1 3.1 0 1 0 -6.2 0M422.7 546.4a3.1 3.1 0 1 0 6.2 0a3.1 3.1 0 1 0 -6.2 0M419.6 554.6a3.1 3.1 0 1 0 6.2 0a3.1 3.1 0 1 0 -6.2 0M431.8 552.9a3.1 3.1 0 1 0 6.2 0a3.1 3.1 0 1 0 -6.2 0M418.6 548.6a3.1 3.1 0 1 0 6.2 0a3.1 3.1 0 1 0 -6.2 0M421.4 530.1a3.1 3.1 0 1 0 6.2 0a3.1 3.1 0 1 0 -6.2 0M411.7 553.5a3.1 3.1 0 1 0 6.2 0a3.1 3.1 0 1 0 -6.2 0M436.1 544.4a3.1 3.1 0 1 0 6.2 0a3.1 3.1 0 1 0 -6.2 0M409.9 552.6a3.1 3.1 0 1 0 6.2 0a3.1 3.1 0 1 0 -6.2 0M424.4 550.0a3.1 3.1 0 1 0 6.2 0a3.1 3.1 0 1 0 -6.2 0M415.1 554.0a3.1 3.1 0 1 0 6.2 0a3.1 3.1 0 1 0 -6.2 0M407.8 538.7a3.1 3.1 0 1 0 6.2 0a3.1 3.1 0 1 0 -6.2 0M425.1 544.3a3.1 3.1 0 1 0 6.2 0a3.1 3.1 0 1 0 -6.2 0M411.0 538.1a3.1 3.1 0 1 0 6.2 0a3.1 3.1 0 1 0 -6.2 0M413.8 521.8a3.1 3.1 0 1 0 6.2 0a3.1 3.1 0 1 0 -6.2 0M422.0 555.9a3.1 3.1 0 1 0 6.2 0a3.1 3.1 0 1 0 -6.2 0M401.1 539.7a3.1 3.1 0 1 0 6.2 0a3.1 3.1 0 1 0 -6.2 0M405.3 536.4a3.1 3.1 0 1 0 6.2 0a3.1 3.1 0 1 0 -6.2 0M432.4 540.1a3.1 3.1 0 1 0 6.2 0a3.1 3.1 0 1 0 -6.2 0M430.2 525.0a3.1 3.1 0 1 0 6.2 0a3.1 3.1 0 1 0 -6.2 0M416.7 538.0a3.1 3.1 0 1 0 6.2 0a3.1 3.1 0 1 0 -6.2 0M411.7 549.7a3.1 3.1 0 1 0 6.2 0a3.1 3.1 0 1 0 -6.2 0M406.2 526.6a3.1 3.1 0 1 0 6.2 0a3.1 3.1 0 1 0 -6.2 0M420.7 524.7a3.1 3.1 0 1 0 6.2 0a3.1 3.1 0 1 0 -6.2 0M410.4 521.9a3.1 3.1 0 1 0 6.2 0a3.1 3.1 0 1 0 -6.2 0M420.5 521.0a3.1 3.1 0 1 0 6.2 0a3.1 3.1 0 1 0 -6.2 0M429.1 535.8a3.1 3.1 0 1 0 6.2 0a3.1 3.1 0 1 0 -6.2 0M408.3 535.3a3.1 3.1 0 1 0 6.2 0a3.1 3.1 0 1 0 -6.2 0M421.2 545.0a3.1 3.1 0 1 0 6.2 0a3.1 3.1 0 1 0 -6.2 0M405.3 520.4a3.1 3.1 0 1 0 6.2 0a3.1 3.1 0 1 0 -6.2 0M417.3 519.6a3.1 3.1 0 1 0 6.2 0a3.1 3.1 0 1 0 -6.2 0M421.5 562.6a3.1 3.1 0 1 0 6.2 0a3.1 3.1 0 1 0 -6.2 0M411.6 556.3a3.1 3.1 0 1 0 6.2 0a3.1 3.1 0 1 0 -6.2 0M427.8 557.0a3.1 3.1 0 1 0 6.2 0a3.1 3.1 0 1 0 -6.2 0M433.4 556.3a3.1 3.1 0 1 0 6.2 0a3.1 3.1 0 1 0 -6.2 0M464.9 548.6a3.1 3.1 0 1 0 6.2 0a3.1 3.1 0 1 0 -6.2 0M457.8 571.4a3.1 3.1 0 1 0 6.2 0a3.1 3.1 0 1 0 -6.2 0M456.4 551.7a3.1 3.1 0 1 0 6.2 0a3.1 3.1 0 1 0 -6.2 0M448.4 572.8a3.1 3.1 0 1 0 6.2 0a3.1 3.1 0 1 0 -6.2 0M444.5 548.7a3.1 3.1 0 1 0 6.2 0a3.1 3.1 0 1 0 -6.2 0M460.6 571.2a3.1 3.1 0 1 0 6.2 0a3.1 3.1 0 1 0 -6.2 0M455.9 592.2a3.1 3.1 0 1 0 6.2 0a3.1 3.1 0 1 0 -6.2 0M452.3 546.9a3.1 3.1 0 1 0 6.2 0a3.1 3.1 0 1 0 -6.2 0M462.3 582.5a3.1 3.1 0 1 0 6.2 0a3.1 3.1 0 1 0 -6.2 0M459.4 584.6a3.1 3.1 0 1 0 6.2 0a3.1 3.1 0 1 0 -6.2 0M466.7 567.3a3.1 3.1 0 1 0 6.2 0a3.1 3.1 0 1 0 -6.2 0M461.8 567.7a3.1 3.1 0 1 0 6.2 0a3.1 3.1 0 1 0 -6.2 0M457.3 587.3a3.1 3.1 0 1 0 6.2 0a3.1 3.1 0 1 0 -6.2 0M451.3 548.7a3.1 3.1 0 1 0 6.2 0a3.1 3.1 0 1 0 -6.2 0M459.0 555.2a3.1 3.1 0 1 0 6.2 0a3.1 3.1 0 1 0 -6.2 0M448.1 564.7a3.1 3.1 0 1 0 6.2 0a3.1 3.1 0 1 0 -6.2 0M463.1 556.1a3.1 3.1 0 1 0 6.2 0a3.1 3.1 0 1 0 -6.2 0M446.6 549.6a3.1 3.1 0 1 0 6.2 0a3.1 3.1 0 1 0 -6.2 0M444.8 561.5a3.1 3.1 0 1 0 6.2 0a3.1 3.1 0 1 0 -6.2 0M457.4 598.0a3.1 3.1 0 1 0 6.2 0a3.1 3.1 0 1 0 -6.2 0M451.7 567.8a3.1 3.1 0 1 0 6.2 0a3.1 3.1 0 1 0 -6.2 0M450.7 563.4a3.1 3.1 0 1 0 6.2 0a3.1 3.1 0 1 0 -6.2 0M462.2 579.8a3.1 3.1 0 1 0 6.2 0a3.1 3.1 0 1 0 -6.2 0M450.0 550.2a3.1 3.1 0 1 0 6.2 0a3.1 3.1 0 1 0 -6.2 0M462.3 590.4a3.1 3.1 0 1 0 6.2 0a3.1 3.1 0 1 0 -6.2 0M463.4 558.9a3.1 3.1 0 1 0 6.2 0a3.1 3.1 0 1 0 -6.2 0M456.7 604.6a3.1 3.1 0 1 0 6.2 0a3.1 3.1 0 1 0 -6.2 0M457.8 606.3a3.1 3.1 0 1 0 6.2 0a3.1 3.1 0 1 0 -6.2 0M445.2 570.9a3.1 3.1 0 1 0 6.2 0a3.1 3.1 0 1 0 -6.2 0M462.8 606.6a3.1 3.1 0 1 0 6.2 0a3.1 3.1 0 1 0 -6.2 0M448.4 548.1a3.1 3.1 0 1 0 6.2 0a3.1 3.1 0 1 0 -6.2 0M454.9 556.2a3.1 3.1 0 1 0 6.2 0a3.1 3.1 0 1 0 -6.2 0M456.3 554.4a3.1 3.1 0 1 0 6.2 0a3.1 3.1 0 1 0 -6.2 0M449.8 571.3a3.1 3.1 0 1 0 6.2 0a3.1 3.1 0 1 0 -6.2 0M465.1 572.8a3.1 3.1 0 1 0 6.2 0a3.1 3.1 0 1 0 -6.2 0M452.0 602.8a3.1 3.1 0 1 0 6.2 0a3.1 3.1 0 1 0 -6.2 0M463.0 603.0a3.1 3.1 0 1 0 6.2 0a3.1 3.1 0 1 0 -6.2 0M460.2 598.6a3.1 3.1 0 1 0 6.2 0a3.1 3.1 0 1 0 -6.2 0M458.9 559.0a3.1 3.1 0 1 0 6.2 0a3.1 3.1 0 1 0 -6.2 0M446.4 585.3a3.1 3.1 0 1 0 6.2 0a3.1 3.1 0 1 0 -6.2 0M451.7 580.5a3.1 3.1 0 1 0 6.2 0a3.1 3.1 0 1 0 -6.2 0M457.1 579.3a3.1 3.1 0 1 0 6.2 0a3.1 3.1 0 1 0 -6.2 0M449.4 580.6a3.1 3.1 0 1 0 6.2 0a3.1 3.1 0 1 0 -6.2 0M455.0 573.1a3.1 3.1 0 1 0 6.2 0a3.1 3.1 0 1 0 -6.2 0M460.8 543.3a3.1 3.1 0 1 0 6.2 0a3.1 3.1 0 1 0 -6.2 0M452.8 595.6a3.1 3.1 0 1 0 6.2 0a3.1 3.1 0 1 0 -6.2 0M447.2 601.1a3.1 3.1 0 1 0 6.2 0a3.1 3.1 0 1 0 -6.2 0M448.7 588.6a3.1 3.1 0 1 0 6.2 0a3.1 3.1 0 1 0 -6.2 0M453.8 548.5a3.1 3.1 0 1 0 6.2 0a3.1 3.1 0 1 0 -6.2 0M460.3 575.2a3.1 3.1 0 1 0 6.2 0a3.1 3.1 0 1 0 -6.2 0M460.1 579.1a3.1 3.1 0 1 0 6.2 0a3.1 3.1 0 1 0 -6.2 0M464.2 576.4a3.1 3.1 0 1 0 6.2 0a3.1 3.1 0 1 0 -6.2 0M462.2 588.1a3.1 3.1 0 1 0 6.2 0a3.1 3.1 0 1 0 -6.2 0M458.1 562.5a3.1 3.1 0 1 0 6.2 0a3.1 3.1 0 1 0 -6.2 0M451.0 607.3a3.1 3.1 0 1 0 6.2 0a3.1 3.1 0 1 0 -6.2 0M453.8 597.7a3.1 3.1 0 1 0 6.2 0a3.1 3.1 0 1 0 -6.2 0M455.1 580.1a3.1 3.1 0 1 0 6.2 0a3.1 3.1 0 1 0 -6.2 0M449.9 561.6a3.1 3.1 0 1 0 6.2 0a3.1 3.1 0 1 0 -6.2 0M446.0 557.6a3.1 3.1 0 1 0 6.2 0a3.1 3.1 0 1 0 -6.2 0M450.1 600.1a3.1 3.1 0 1 0 6.2 0a3.1 3.1 0 1 0 -6.2 0M454.8 551.1a3.1 3.1 0 1 0 6.2 0a3.1 3.1 0 1 0 -6.2 0M467.0 585.5a3.1 3.1 0 1 0 6.2 0a3.1 3.1 0 1 0 -6.2 0M464.3 525.9a3.1 3.1 0 1 0 6.2 0a3.1 3.1 0 1 0 -6.2 0M449.0 533.8a3.1 3.1 0 1 0 6.2 0a3.1 3.1 0 1 0 -6.2 0M454.6 537.2a3.1 3.1 0 1 0 6.2 0a3.1 3.1 0 1 0 -6.2 0M463.7 533.8a3.1 3.1 0 1 0 6.2 0a3.1 3.1 0 1 0 -6.2 0M449.0 541.7a3.1 3.1 0 1 0 6.2 0a3.1 3.1 0 1 0 -6.2 0M464.3 542.8a3.1 3.1 0 1 0 6.2 0a3.1 3.1 0 1 0 -6.2 0M451.8 613.3a3.1 3.1 0 1 0 6.2 0a3.1 3.1 0 1 0 -6.2 0M462.8 608.0a3.1 3.1 0 1 0 6.2 0a3.1 3.1 0 1 0 -6.2 0M446.8 603.8a3.1 3.1 0 1 0 6.2 0a3.1 3.1 0 1 0 -6.2 0M456.9 607.6a3.1 3.1 0 1 0 6.2 0a3.1 3.1 0 1 0 -6.2 0M497.8 555.2a3.1 3.1 0 1 0 6.2 0a3.1 3.1 0 1 0 -6.2 0M479.2 536.8a3.1 3.1 0 1 0 6.2 0a3.1 3.1 0 1 0 -6.2 0M492.1 538.2a3.1 3.1 0 1 0 6.2 0a3.1 3.1 0 1 0 -6.2 0M477.0 542.8a3.1 3.1 0 1 0 6.2 0a3.1 3.1 0 1 0 -6.2 0M499.5 544.2a3.1 3.1 0 1 0 6.2 0a3.1 3.1 0 1 0 -6.2 0M495.0 534.4a3.1 3.1 0 1 0 6.2 0a3.1 3.1 0 1 0 -6.2 0M495.6 539.1a3.1 3.1 0 1 0 6.2 0a3.1 3.1 0 1 0 -6.2 0M487.4 541.9a3.1 3.1 0 1 0 6.2 0a3.1 3.1 0 1 0 -6.2 0M482.3 531.7a3.1 3.1 0 1 0 6.2 0a3.1 3.1 0 1 0 -6.2 0M488.5 556.5a3.1 3.1 0 1 0 6.2 0a3.1 3.1 0 1 0 -6.2 0M486.3 527.1a3.1 3.1 0 1 0 6.2 0a3.1 3.1 0 1 0 -6.2 0M484.4 541.2a3.1 3.1 0 1 0 6.2 0a3.1 3.1 0 1 0 -6.2 0M481.3 535.9a3.1 3.1 0 1 0 6.2 0a3.1 3.1 0 1 0 -6.2 0M482.7 544.6a3.1 3.1 0 1 0 6.2 0a3.1 3.1 0 1 0 -6.2 0M487.9 547.8a3.1 3.1 0 1 0 6.2 0a3.1 3.1 0 1 0 -6.2 0M482.9 538.8a3.1 3.1 0 1 0 6.2 0a3.1 3.1 0 1 0 -6.2 0M484.6 551.0a3.1 3.1 0 1 0 6.2 0a3.1 3.1 0 1 0 -6.2 0M474.5 541.7a3.1 3.1 0 1 0 6.2 0a3.1 3.1 0 1 0 -6.2 0M492.6 550.2a3.1 3.1 0 1 0 6.2 0a3.1 3.1 0 1 0 -6.2 0M504.3 553.6a3.1 3.1 0 1 0 6.2 0a3.1 3.1 0 1 0 -6.2 0M490.5 550.3a3.1 3.1 0 1 0 6.2 0a3.1 3.1 0 1 0 -6.2 0M495.8 541.3a3.1 3.1 0 1 0 6.2 0a3.1 3.1 0 1 0 -6.2 0M502.2 555.0a3.1 3.1 0 1 0 6.2 0a3.1 3.1 0 1 0 -6.2 0M480.3 530.5a3.1 3.1 0 1 0 6.2 0a3.1 3.1 0 1 0 -6.2 0M494.3 559.1a3.1 3.1 0 1 0 6.2 0a3.1 3.1 0 1 0 -6.2 0M483.0 527.3a3.1 3.1 0 1 0 6.2 0a3.1 3.1 0 1 0 -6.2 0M489.8 537.3a3.1 3.1 0 1 0 6.2 0a3.1 3.1 0 1 0 -6.2 0M497.0 530.6a3.1 3.1 0 1 0 6.2 0a3.1 3.1 0 1 0 -6.2 0M496.7 551.9a3.1 3.1 0 1 0 6.2 0a3.1 3.1 0 1 0 -6.2 0M505.8 543.3a3.1 3.1 0 1 0 6.2 0a3.1 3.1 0 1 0 -6.2 0M497.5 549.7a3.1 3.1 0 1 0 6.2 0a3.1 3.1 0 1 0 -6.2 0M491.0 542.5a3.1 3.1 0 1 0 6.2 0a3.1 3.1 0 1 0 -6.2 0M502.1 537.6a3.1 3.1 0 1 0 6.2 0a3.1 3.1 0 1 0 -6.2 0M482.4 542.1a3.1 3.1 0 1 0 6.2 0a3.1 3.1 0 1 0 -6.2 0M482.1 548.3a3.1 3.1 0 1 0 6.2 0a3.1 3.1 0 1 0 -6.2 0M504.3 545.7a3.1 3.1 0 1 0 6.2 0a3.1 3.1 0 1 0 -6.2 0M494.7 529.6a3.1 3.1 0 1 0 6.2 0a3.1 3.1 0 1 0 -6.2 0M499.9 532.2a3.1 3.1 0 1 0 6.2 0a3.1 3.1 0 1 0 -6.2 0M502.8 540.6a3.1 3.1 0 1 0 6.2 0a3.1 3.1 0 1 0 -6.2 0M491.4 534.9a3.1 3.1 0 1 0 6.2 0a3.1 3.1 0 1 0 -6.2 0M483.6 529.9a3.1 3.1 0 1 0 6.2 0a3.1 3.1 0 1 0 -6.2 0M499.7 553.2a3.1 3.1 0 1 0 6.2 0a3.1 3.1 0 1 0 -6.2 0M502.1 547.1a3.1 3.1 0 1 0 6.2 0a3.1 3.1 0 1 0 -6.2 0M497.7 537.7a3.1 3.1 0 1 0 6.2 0a3.1 3.1 0 1 0 -6.2 0M488.2 539.5a3.1 3.1 0 1 0 6.2 0a3.1 3.1 0 1 0 -6.2 0M486.6 559.1a3.1 3.1 0 1 0 6.2 0a3.1 3.1 0 1 0 -6.2 0M493.6 548.2a3.1 3.1 0 1 0 6.2 0a3.1 3.1 0 1 0 -6.2 0M499.5 557.2a3.1 3.1 0 1 0 6.2 0a3.1 3.1 0 1 0 -6.2 0M476.6 529.7a3.1 3.1 0 1 0 6.2 0a3.1 3.1 0 1 0 -6.2 0M478.6 545.1a3.1 3.1 0 1 0 6.2 0a3.1 3.1 0 1 0 -6.2 0M483.8 553.2a3.1 3.1 0 1 0 6.2 0a3.1 3.1 0 1 0 -6.2 0M486.2 529.4a3.1 3.1 0 1 0 6.2 0a3.1 3.1 0 1 0 -6.2 0M489.9 530.2a3.1 3.1 0 1 0 6.2 0a3.1 3.1 0 1 0 -6.2 0M505.8 538.4a3.1 3.1 0 1 0 6.2 0a3.1 3.1 0 1 0 -6.2 0M493.7 545.5a3.1 3.1 0 1 0 6.2 0a3.1 3.1 0 1 0 -6.2 0M494.9 527.3a3.1 3.1 0 1 0 6.2 0a3.1 3.1 0 1 0 -6.2 0M500.5 550.9a3.1 3.1 0 1 0 6.2 0a3.1 3.1 0 1 0 -6.2 0M493.8 543.2a3.1 3.1 0 1 0 6.2 0a3.1 3.1 0 1 0 -6.2 0M497.4 535.6a3.1 3.1 0 1 0 6.2 0a3.1 3.1 0 1 0 -6.2 0M496.0 544.4a3.1 3.1 0 1 0 6.2 0a3.1 3.1 0 1 0 -6.2 0M503.6 530.2a3.1 3.1 0 1 0 6.2 0a3.1 3.1 0 1 0 -6.2 0M504.6 533.6a3.1 3.1 0 1 0 6.2 0a3.1 3.1 0 1 0 -6.2 0M486.0 554.9a3.1 3.1 0 1 0 6.2 0a3.1 3.1 0 1 0 -6.2 0M492.8 533.4a3.1 3.1 0 1 0 6.2 0a3.1 3.1 0 1 0 -6.2 0M481.0 563.3a3.1 3.1 0 1 0 6.2 0a3.1 3.1 0 1 0 -6.2 0M503.5 557.0a3.1 3.1 0 1 0 6.2 0a3.1 3.1 0 1 0 -6.2 0M508.9 537.0a3.1 3.1 0 1 0 6.2 0a3.1 3.1 0 1 0 -6.2 0M525.4 537.3a3.1 3.1 0 1 0 6.2 0a3.1 3.1 0 1 0 -6.2 0M524.6 556.3a3.1 3.1 0 1 0 6.2 0a3.1 3.1 0 1 0 -6.2 0M564.2 545.3a3.1 3.1 0 1 0 6.2 0a3.1 3.1 0 1 0 -6.2 0M584.6 558.6a3.1 3.1 0 1 0 6.2 0a3.1 3.1 0 1 0 -6.2 0M569.4 546.9a3.1 3.1 0 1 0 6.2 0a3.1 3.1 0 1 0 -6.2 0M630.2 552.9a3.1 3.1 0 1 0 6.2 0a3.1 3.1 0 1 0 -6.2 0M591.6 544.9a3.1 3.1 0 1 0 6.2 0a3.1 3.1 0 1 0 -6.2 0M549.8 546.6a3.1 3.1 0 1 0 6.2 0a3.1 3.1 0 1 0 -6.2 0M589.6 548.5a3.1 3.1 0 1 0 6.2 0a3.1 3.1 0 1 0 -6.2 0M577.0 547.8a3.1 3.1 0 1 0 6.2 0a3.1 3.1 0 1 0 -6.2 0M596.2 546.5a3.1 3.1 0 1 0 6.2 0a3.1 3.1 0 1 0 -6.2 0M555.6 552.3a3.1 3.1 0 1 0 6.2 0a3.1 3.1 0 1 0 -6.2 0M570.9 536.0a3.1 3.1 0 1 0 6.2 0a3.1 3.1 0 1 0 -6.2 0M595.2 549.5a3.1 3.1 0 1 0 6.2 0a3.1 3.1 0 1 0 -6.2 0M564.0 547.8a3.1 3.1 0 1 0 6.2 0a3.1 3.1 0 1 0 -6.2 0M601.4 546.1a3.1 3.1 0 1 0 6.2 0a3.1 3.1 0 1 0 -6.2 0M574.4 564.8a3.1 3.1 0 1 0 6.2 0a3.1 3.1 0 1 0 -6.2 0M549.2 543.2a3.1 3.1 0 1 0 6.2 0a3.1 3.1 0 1 0 -6.2 0M561.0 560.9a3.1 3.1 0 1 0 6.2 0a3.1 3.1 0 1 0 -6.2 0M582.2 543.0a3.1 3.1 0 1 0 6.2 0a3.1 3.1 0 1 0 -6.2 0M610.8 543.0a3.1 3.1 0 1 0 6.2 0a3.1 3.1 0 1 0 -6.2 0M572.2 543.2a3.1 3.1 0 1 0 6.2 0a3.1 3.1 0 1 0 -6.2 0M551.3 548.1a3.1 3.1 0 1 0 6.2 0a3.1 3.1 0 1 0 -6.2 0M578.3 552.1a3.1 3.1 0 1 0 6.2 0a3.1 3.1 0 1 0 -6.2 0M576.2 565.7a3.1 3.1 0 1 0 6.2 0a3.1 3.1 0 1 0 -6.2 0M620.1 546.7a3.1 3.1 0 1 0 6.2 0a3.1 3.1 0 1 0 -6.2 0M551.4 545.2a3.1 3.1 0 1 0 6.2 0a3.1 3.1 0 1 0 -6.2 0M582.1 555.2a3.1 3.1 0 1 0 6.2 0a3.1 3.1 0 1 0 -6.2 0M567.6 545.3a3.1 3.1 0 1 0 6.2 0a3.1 3.1 0 1 0 -6.2 0M587.8 539.4a3.1 3.1 0 1 0 6.2 0a3.1 3.1 0 1 0 -6.2 0M548.3 553.6a3.1 3.1 0 1 0 6.2 0a3.1 3.1 0 1 0 -6.2 0M569.5 563.9a3.1 3.1 0 1 0 6.2 0a3.1 3.1 0 1 0 -6.2 0M582.7 539.0a3.1 3.1 0 1 0 6.2 0a3.1 3.1 0 1 0 -6.2 0M539.2 557.5a3.1 3.1 0 1 0 6.2 0a3.1 3.1 0 1 0 -6.2 0M581.9 551.4a3.1 3.1 0 1 0 6.2 0a3.1 3.1 0 1 0 -6.2 0M586.0 547.5a3.1 3.1 0 1 0 6.2 0a3.1 3.1 0 1 0 -6.2 0M583.7 560.7a3.1 3.1 0 1 0 6.2 0a3.1 3.1 0 1 0 -6.2 0M571.0 545.2a3.1 3.1 0 1 0 6.2 0a3.1 3.1 0 1 0 -6.2 0M570.5 557.4a3.1 3.1 0 1 0 6.2 0a3.1 3.1 0 1 0 -6.2 0M586.8 557.8a3.1 3.1 0 1 0 6.2 0a3.1 3.1 0 1 0 -6.2 0M567.6 562.2a3.1 3.1 0 1 0 6.2 0a3.1 3.1 0 1 0 -6.2 0M602.8 552.8a3.1 3.1 0 1 0 6.2 0a3.1 3.1 0 1 0 -6.2 0M579.3 549.8a3.1 3.1 0 1 0 6.2 0a3.1 3.1 0 1 0 -6.2 0M594.3 563.8a3.1 3.1 0 1 0 6.2 0a3.1 3.1 0 1 0 -6.2 0M588.1 550.5a3.1 3.1 0 1 0 6.2 0a3.1 3.1 0 1 0 -6.2 0M588.6 546.9a3.1 3.1 0 1 0 6.2 0a3.1 3.1 0 1 0 -6.2 0M556.4 540.4a3.1 3.1 0 1 0 6.2 0a3.1 3.1 0 1 0 -6.2 0M592.6 542.3a3.1 3.1 0 1 0 6.2 0a3.1 3.1 0 1 0 -6.2 0M560.4 541.8a3.1 3.1 0 1 0 6.2 0a3.1 3.1 0 1 0 -6.2 0M561.5 543.9a3.1 3.1 0 1 0 6.2 0a3.1 3.1 0 1 0 -6.2 0M567.7 560.2a3.1 3.1 0 1 0 6.2 0a3.1 3.1 0 1 0 -6.2 0M608.6 547.0a3.1 3.1 0 1 0 6.2 0a3.1 3.1 0 1 0 -6.2 0M583.2 563.8a3.1 3.1 0 1 0 6.2 0a3.1 3.1 0 1 0 -6.2 0M600.0 552.7a3.1 3.1 0 1 0 6.2 0a3.1 3.1 0 1 0 -6.2 0M574.3 532.1a3.1 3.1 0 1 0 6.2 0a3.1 3.1 0 1 0 -6.2 0M589.7 552.4a3.1 3.1 0 1 0 6.2 0a3.1 3.1 0 1 0 -6.2 0M569.0 541.5a3.1 3.1 0 1 0 6.2 0a3.1 3.1 0 1 0 -6.2 0M588.5 537.1a3.1 3.1 0 1 0 6.2 0a3.1 3.1 0 1 0 -6.2 0M573.0 537.0a3.1 3.1 0 1 0 6.2 0a3.1 3.1 0 1 0 -6.2 0M623.8 553.8a3.1 3.1 0 1 0 6.2 0a3.1 3.1 0 1 0 -6.2 0M617.2 543.1a3.1 3.1 0 1 0 6.2 0a3.1 3.1 0 1 0 -6.2 0M593.2 559.7a3.1 3.1 0 1 0 6.2 0a3.1 3.1 0 1 0 -6.2 0M565.2 550.2a3.1 3.1 0 1 0 6.2 0a3.1 3.1 0 1 0 -6.2 0M563.9 552.2a3.1 3.1 0 1 0 6.2 0a3.1 3.1 0 1 0 -6.2 0M540.6 548.3a3.1 3.1 0 1 0 6.2 0a3.1 3.1 0 1 0 -6.2 0M536.5 552.4a3.1 3.1 0 1 0 6.2 0a3.1 3.1 0 1 0 -6.2 0M559.2 543.2a3.1 3.1 0 1 0 6.2 0a3.1 3.1 0 1 0 -6.2 0M536.2 547.0a3.1 3.1 0 1 0 6.2 0a3.1 3.1 0 1 0 -6.2 0M573.8 549.0a3.1 3.1 0 1 0 6.2 0a3.1 3.1 0 1 0 -6.2 0M596.3 537.4a3.1 3.1 0 1 0 6.2 0a3.1 3.1 0 1 0 -6.2 0M573.9 534.8a3.1 3.1 0 1 0 6.2 0a3.1 3.1 0 1 0 -6.2 0M578.7 543.1a3.1 3.1 0 1 0 6.2 0a3.1 3.1 0 1 0 -6.2 0M577.7 535.7a3.1 3.1 0 1 0 6.2 0a3.1 3.1 0 1 0 -6.2 0M620.7 549.5a3.1 3.1 0 1 0 6.2 0a3.1 3.1 0 1 0 -6.2 0M592.2 548.8a3.1 3.1 0 1 0 6.2 0a3.1 3.1 0 1 0 -6.2 0M574.8 544.5a3.1 3.1 0 1 0 6.2 0a3.1 3.1 0 1 0 -6.2 0M584.5 552.1a3.1 3.1 0 1 0 6.2 0a3.1 3.1 0 1 0 -6.2 0M537.0 549.5a3.1 3.1 0 1 0 6.2 0a3.1 3.1 0 1 0 -6.2 0M628.6 551.6a3.1 3.1 0 1 0 6.2 0a3.1 3.1 0 1 0 -6.2 0M605.0 540.9a3.1 3.1 0 1 0 6.2 0a3.1 3.1 0 1 0 -6.2 0M603.6 542.4a3.1 3.1 0 1 0 6.2 0a3.1 3.1 0 1 0 -6.2 0M598.6 550.4a3.1 3.1 0 1 0 6.2 0a3.1 3.1 0 1 0 -6.2 0M564.3 563.8a3.1 3.1 0 1 0 6.2 0a3.1 3.1 0 1 0 -6.2 0M583.9 546.6a3.1 3.1 0 1 0 6.2 0a3.1 3.1 0 1 0 -6.2 0M552.7 542.0a3.1 3.1 0 1 0 6.2 0a3.1 3.1 0 1 0 -6.2 0M569.9 553.5a3.1 3.1 0 1 0 6.2 0a3.1 3.1 0 1 0 -6.2 0M593.8 537.0a3.1 3.1 0 1 0 6.2 0a3.1 3.1 0 1 0 -6.2 0M580.1 534.2a3.1 3.1 0 1 0 6.2 0a3.1 3.1 0 1 0 -6.2 0M587.0 544.8a3.1 3.1 0 1 0 6.2 0a3.1 3.1 0 1 0 -6.2 0M575.9 549.8a3.1 3.1 0 1 0 6.2 0a3.1 3.1 0 1 0 -6.2 0M555.6 533.9a3.1 3.1 0 1 0 6.2 0a3.1 3.1 0 1 0 -6.2 0M570.4 549.4a3.1 3.1 0 1 0 6.2 0a3.1 3.1 0 1 0 -6.2 0M591.3 557.3a3.1 3.1 0 1 0 6.2 0a3.1 3.1 0 1 0 -6.2 0M543.4 552.5a3.1 3.1 0 1 0 6.2 0a3.1 3.1 0 1 0 -6.2 0M573.1 554.1a3.1 3.1 0 1 0 6.2 0a3.1 3.1 0 1 0 -6.2 0M555.8 531.1a3.1 3.1 0 1 0 6.2 0a3.1 3.1 0 1 0 -6.2 0M557.4 556.7a3.1 3.1 0 1 0 6.2 0a3.1 3.1 0 1 0 -6.2 0M562.4 565.0a3.1 3.1 0 1 0 6.2 0a3.1 3.1 0 1 0 -6.2 0M599.0 554.9a3.1 3.1 0 1 0 6.2 0a3.1 3.1 0 1 0 -6.2 0M579.8 547.4a3.1 3.1 0 1 0 6.2 0a3.1 3.1 0 1 0 -6.2 0M601.0 538.2a3.1 3.1 0 1 0 6.2 0a3.1 3.1 0 1 0 -6.2 0M566.8 534.0a3.1 3.1 0 1 0 6.2 0a3.1 3.1 0 1 0 -6.2 0M567.4 558.3a3.1 3.1 0 1 0 6.2 0a3.1 3.1 0 1 0 -6.2 0M571.2 537.9a3.1 3.1 0 1 0 6.2 0a3.1 3.1 0 1 0 -6.2 0M597.0 559.4a3.1 3.1 0 1 0 6.2 0a3.1 3.1 0 1 0 -6.2 0M603.8 549.7a3.1 3.1 0 1 0 6.2 0a3.1 3.1 0 1 0 -6.2 0M565.6 557.1a3.1 3.1 0 1 0 6.2 0a3.1 3.1 0 1 0 -6.2 0M565.8 545.9a3.1 3.1 0 1 0 6.2 0a3.1 3.1 0 1 0 -6.2 0M569.5 543.4a3.1 3.1 0 1 0 6.2 0a3.1 3.1 0 1 0 -6.2 0M581.8 532.6a3.1 3.1 0 1 0 6.2 0a3.1 3.1 0 1 0 -6.2 0M597.3 562.5a3.1 3.1 0 1 0 6.2 0a3.1 3.1 0 1 0 -6.2 0M590.7 539.5a3.1 3.1 0 1 0 6.2 0a3.1 3.1 0 1 0 -6.2 0M541.4 555.3a3.1 3.1 0 1 0 6.2 0a3.1 3.1 0 1 0 -6.2 0M605.5 551.4a3.1 3.1 0 1 0 6.2 0a3.1 3.1 0 1 0 -6.2 0M598.8 556.7a3.1 3.1 0 1 0 6.2 0a3.1 3.1 0 1 0 -6.2 0M614.4 544.7a3.1 3.1 0 1 0 6.2 0a3.1 3.1 0 1 0 -6.2 0M564.1 554.7a3.1 3.1 0 1 0 6.2 0a3.1 3.1 0 1 0 -6.2 0M574.9 561.5a3.1 3.1 0 1 0 6.2 0a3.1 3.1 0 1 0 -6.2 0M541.1 539.9a3.1 3.1 0 1 0 6.2 0a3.1 3.1 0 1 0 -6.2 0M563.1 557.2a3.1 3.1 0 1 0 6.2 0a3.1 3.1 0 1 0 -6.2 0M577.2 562.2a3.1 3.1 0 1 0 6.2 0a3.1 3.1 0 1 0 -6.2 0M545.6 554.2a3.1 3.1 0 1 0 6.2 0a3.1 3.1 0 1 0 -6.2 0M581.1 558.7a3.1 3.1 0 1 0 6.2 0a3.1 3.1 0 1 0 -6.2 0M579.5 562.7a3.1 3.1 0 1 0 6.2 0a3.1 3.1 0 1 0 -6.2 0M550.3 558.0a3.1 3.1 0 1 0 6.2 0a3.1 3.1 0 1 0 -6.2 0M585.7 534.4a3.1 3.1 0 1 0 6.2 0a3.1 3.1 0 1 0 -6.2 0M573.0 552.0a3.1 3.1 0 1 0 6.2 0a3.1 3.1 0 1 0 -6.2 0M573.5 557.6a3.1 3.1 0 1 0 6.2 0a3.1 3.1 0 1 0 -6.2 0M568.3 539.8a3.1 3.1 0 1 0 6.2 0a3.1 3.1 0 1 0 -6.2 0M611.0 540.0a3.1 3.1 0 1 0 6.2 0a3.1 3.1 0 1 0 -6.2 0M565.3 535.8a3.1 3.1 0 1 0 6.2 0a3.1 3.1 0 1 0 -6.2 0M556.6 548.5a3.1 3.1 0 1 0 6.2 0a3.1 3.1 0 1 0 -6.2 0M598.1 539.6a3.1 3.1 0 1 0 6.2 0a3.1 3.1 0 1 0 -6.2 0M607.5 553.9a3.1 3.1 0 1 0 6.2 0a3.1 3.1 0 1 0 -6.2 0M592.1 562.3a3.1 3.1 0 1 0 6.2 0a3.1 3.1 0 1 0 -6.2 0M617.5 552.8a3.1 3.1 0 1 0 6.2 0a3.1 3.1 0 1 0 -6.2 0M609.9 544.8a3.1 3.1 0 1 0 6.2 0a3.1 3.1 0 1 0 -6.2 0M431.1 679.1a3.1 3.1 0 1 0 6.2 0a3.1 3.1 0 1 0 -6.2 0M418.6 687.0a3.1 3.1 0 1 0 6.2 0a3.1 3.1 0 1 0 -6.2 0M429.6 685.1a3.1 3.1 0 1 0 6.2 0a3.1 3.1 0 1 0 -6.2 0M428.5 694.1a3.1 3.1 0 1 0 6.2 0a3.1 3.1 0 1 0 -6.2 0M433.3 690.7a3.1 3.1 0 1 0 6.2 0a3.1 3.1 0 1 0 -6.2 0M416.9 686.9a3.1 3.1 0 1 0 6.2 0a3.1 3.1 0 1 0 -6.2 0M422.3 691.6a3.1 3.1 0 1 0 6.2 0a3.1 3.1 0 1 0 -6.2 0M420.6 685.9a3.1 3.1 0 1 0 6.2 0a3.1 3.1 0 1 0 -6.2 0M414.1 687.0a3.1 3.1 0 1 0 6.2 0a3.1 3.1 0 1 0 -6.2 0M426.8 691.3a3.1 3.1 0 1 0 6.2 0a3.1 3.1 0 1 0 -6.2 0M433.5 683.5a3.1 3.1 0 1 0 6.2 0a3.1 3.1 0 1 0 -6.2 0M433.4 679.0a3.1 3.1 0 1 0 6.2 0a3.1 3.1 0 1 0 -6.2 0M435.5 682.7a3.1 3.1 0 1 0 6.2 0a3.1 3.1 0 1 0 -6.2 0M423.7 685.4a3.1 3.1 0 1 0 6.2 0a3.1 3.1 0 1 0 -6.2 0M426.4 689.3a3.1 3.1 0 1 0 6.2 0a3.1 3.1 0 1 0 -6.2 0M414.9 683.1a3.1 3.1 0 1 0 6.2 0a3.1 3.1 0 1 0 -6.2 0M426.4 677.1a3.1 3.1 0 1 0 6.2 0a3.1 3.1 0 1 0 -6.2 0M432.4 671.8a3.1 3.1 0 1 0 6.2 0a3.1 3.1 0 1 0 -6.2 0M436.9 671.6a3.1 3.1 0 1 0 6.2 0a3.1 3.1 0 1 0 -6.2 0M441.5 671.8a3.1 3.1 0 1 0 6.2 0a3.1 3.1 0 1 0 -6.2 0M486.1 683.8a3.1 3.1 0 1 0 6.2 0a3.1 3.1 0 1 0 -6.2 0M477.2 679.2a3.1 3.1 0 1 0 6.2 0a3.1 3.1 0 1 0 -6.2 0M490.7 676.6a3.1 3.1 0 1 0 6.2 0a3.1 3.1 0 1 0 -6.2 0M493.4 680.9a3.1 3.1 0 1 0 6.2 0a3.1 3.1 0 1 0 -6.2 0M483.9 675.1a3.1 3.1 0 1 0 6.2 0a3.1 3.1 0 1 0 -6.2 0M491.4 684.8a3.1 3.1 0 1 0 6.2 0a3.1 3.1 0 1 0 -6.2 0M488.6 683.2a3.1 3.1 0 1 0 6.2 0a3.1 3.1 0 1 0 -6.2 0M495.2 683.0a3.1 3.1 0 1 0 6.2 0a3.1 3.1 0 1 0 -6.2 0M475.0 682.6a3.1 3.1 0 1 0 6.2 0a3.1 3.1 0 1 0 -6.2 0M477.4 683.1a3.1 3.1 0 1 0 6.2 0a3.1 3.1 0 1 0 -6.2 0M487.6 681.3a3.1 3.1 0 1 0 6.2 0a3.1 3.1 0 1 0 -6.2 0M470.7 679.5a3.1 3.1 0 1 0 6.2 0a3.1 3.1 0 1 0 -6.2 0M476.4 684.5a3.1 3.1 0 1 0 6.2 0a3.1 3.1 0 1 0 -6.2 0M494.0 684.9a3.1 3.1 0 1 0 6.2 0a3.1 3.1 0 1 0 -6.2 0M482.8 676.4a3.1 3.1 0 1 0 6.2 0a3.1 3.1 0 1 0 -6.2 0M487.7 677.7a3.1 3.1 0 1 0 6.2 0a3.1 3.1 0 1 0 -6.2 0M489.7 678.8a3.1 3.1 0 1 0 6.2 0a3.1 3.1 0 1 0 -6.2 0M484.0 679.8a3.1 3.1 0 1 0 6.2 0a3.1 3.1 0 1 0 -6.2 0M478.0 684.9a3.1 3.1 0 1 0 6.2 0a3.1 3.1 0 1 0 -6.2 0" fill="#1b9de2"/>
<rect x="11.2" y="7.3" width="76.6" height="33.2" fill="#000"/>
<text x="20.5" y="33" font-size="22" font-weight="bold" fill="#fff" font-family="'Liberation Sans','Noto Sans CJK JP',sans-serif">図表2</text>
<text x="97" y="33" font-size="22.8" fill="#231f20" textLength="366" lengthAdjust="spacing" font-family="'Liberation Sans','Noto Sans CJK JP',sans-serif">爆撃機に当たった主な部位と被痕数</text>
<rect x="32" y="71" width="642" height="52" fill="#a0d5f3"/>
<rect x="32" y="123" width="191" height="184" fill="#d5edfb"/>
<rect x="32" y="69.3" width="642" height="3.7" fill="#1b90d7"/>
<rect x="32" y="121.7" width="642" height="2.6" fill="#1b90d7"/>
<rect x="32" y="304.6" width="642" height="4.2" fill="#1b90d7"/>
<rect x="221.9" y="71" width="2.9" height="236" fill="#1b90d7"/>
<text x="67" y="105" font-size="24.4" font-weight="bold" fill="#231f20" textLength="125.5" lengthAdjust="spacing" font-family="'Liberation Sans','Noto Sans CJK JP',sans-serif">機体の部分</text>
<text x="291" y="105" font-size="23.6" font-weight="bold" fill="#231f20" textLength="335" lengthAdjust="spacing" font-family="'Liberation Sans','Noto Sans CJK JP',sans-serif">被痕数（1平方フィートあたり）</text>
<text x="66.5" y="154" font-size="22" fill="#231f20" textLength="87" lengthAdjust="spacing" font-family="'Liberation Sans','Noto Sans CJK JP',sans-serif">エンジン</text>
<text x="66" y="199" font-size="22" fill="#231f20" textLength="46" lengthAdjust="spacing" font-family="'Liberation Sans','Noto Sans CJK JP',sans-serif">胴体</text>
<text x="66" y="244" font-size="22" fill="#231f20" textLength="93.5" lengthAdjust="spacing" font-family="'Liberation Sans','Noto Sans CJK JP',sans-serif">燃料系統</text>
<text x="66" y="289" font-size="22" fill="#231f20" textLength="69" lengthAdjust="spacing" font-family="'Liberation Sans','Noto Sans CJK JP',sans-serif">その他</text>
<text x="430" y="154.1" font-size="23" fill="#231f20" textLength="58" lengthAdjust="spacing" font-family="'Liberation Sans',sans-serif">11.1</text>
<text x="430" y="199.2" font-size="23" fill="#231f20" textLength="61" lengthAdjust="spacing" font-family="'Liberation Sans',sans-serif">1.73</text>
<text x="430" y="244.2" font-size="23" fill="#231f20" textLength="61" lengthAdjust="spacing" font-family="'Liberation Sans',sans-serif">1.58</text>
<text x="448" y="289.1" font-size="23" fill="#231f20" textLength="43" lengthAdjust="spacing" font-family="'Liberation Sans',sans-serif">1.8</text>
<text x="111" y="336" font-size="17" fill="#231f20" textLength="563" lengthAdjust="spacing" font-family="'Liberation Sans','Noto Sans CJK JP',sans-serif"><tspan fill="#8f8f8f">『</tspan>データを正しく見るための数学的思考<tspan fill="#8f8f8f">』</tspan>（ジョーダン・エレンバーグ）</text>
<circle cx="458.5" cy="395" r="21" fill="#1b9de2"/>
<text x="458.7" y="402.9" font-size="25" text-anchor="middle" fill="#fff" stroke="#fff" stroke-width="1.0" stroke-linejoin="round" font-family="'Liberation Sans',sans-serif">A</text>
<circle cx="587.8" cy="654.1" r="21" fill="#1b9de2"/>
<text x="588.5" y="662.9" font-size="25" text-anchor="middle" fill="#fff" stroke="#fff" stroke-width="1.0" stroke-linejoin="round" font-family="'Liberation Sans',sans-serif">B</text>
<path fill="none" stroke="#231f20" stroke-width="2" stroke-dasharray="3.8 3.8" d="M458.5 416V432"/>
<path fill="none" stroke="#231f20" stroke-width="2" stroke-dasharray="3.8 3.8" d="M346.9 510V432H569.6V513"/>
<path fill="none" stroke="#231f20" stroke-width="2" stroke-dasharray="3.8 3.8" d="M419.4 579.5V595.4H497.5V579.5"/>
<path fill="none" stroke="#231f20" stroke-width="2" stroke-dasharray="3.8 3.8" d="M497.5 595.4L571 641"/>
</svg>
</body></html>
